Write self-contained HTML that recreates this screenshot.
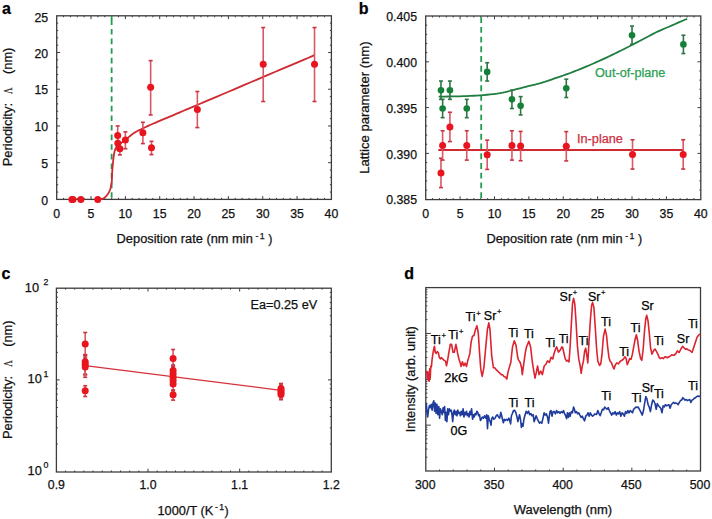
<!DOCTYPE html>
<html><head><meta charset="utf-8"><style>
html,body{margin:0;padding:0;background:#fff;}
body{width:712px;height:519px;overflow:hidden;}
svg{display:block;}

</style></head><body>
<svg width="712" height="519" viewBox="0 0 712 519">
<rect width="712" height="519" fill="#fff"/>
<rect x="56.7" y="15.8" width="274.7" height="183.6" fill="none" stroke="#3c3c3c" stroke-width="1.3"/>
<text x="56.7" y="217.8" font-family="Liberation Sans" font-size="12.3" text-anchor="middle" fill="#111" stroke="#111" stroke-width="0.25" font-weight="normal">0</text>
<line x1="63.57" y1="199.4" x2="63.57" y2="197.9" stroke="#3c3c3c" stroke-width="1"/>
<line x1="63.57" y1="15.8" x2="63.57" y2="17.3" stroke="#3c3c3c" stroke-width="1"/>
<line x1="70.44" y1="199.4" x2="70.44" y2="197.9" stroke="#3c3c3c" stroke-width="1"/>
<line x1="70.44" y1="15.8" x2="70.44" y2="17.3" stroke="#3c3c3c" stroke-width="1"/>
<line x1="77.3" y1="199.4" x2="77.3" y2="197.9" stroke="#3c3c3c" stroke-width="1"/>
<line x1="77.3" y1="15.8" x2="77.3" y2="17.3" stroke="#3c3c3c" stroke-width="1"/>
<line x1="84.17" y1="199.4" x2="84.17" y2="197.9" stroke="#3c3c3c" stroke-width="1"/>
<line x1="84.17" y1="15.8" x2="84.17" y2="17.3" stroke="#3c3c3c" stroke-width="1"/>
<line x1="91.04" y1="199.4" x2="91.04" y2="196.1" stroke="#3c3c3c" stroke-width="1"/>
<line x1="91.04" y1="15.8" x2="91.04" y2="19.1" stroke="#3c3c3c" stroke-width="1"/>
<text x="91.04" y="217.8" font-family="Liberation Sans" font-size="12.3" text-anchor="middle" fill="#111" stroke="#111" stroke-width="0.25" font-weight="normal">5</text>
<line x1="97.91" y1="199.4" x2="97.91" y2="197.9" stroke="#3c3c3c" stroke-width="1"/>
<line x1="97.91" y1="15.8" x2="97.91" y2="17.3" stroke="#3c3c3c" stroke-width="1"/>
<line x1="104.77" y1="199.4" x2="104.77" y2="197.9" stroke="#3c3c3c" stroke-width="1"/>
<line x1="104.77" y1="15.8" x2="104.77" y2="17.3" stroke="#3c3c3c" stroke-width="1"/>
<line x1="111.64" y1="199.4" x2="111.64" y2="197.9" stroke="#3c3c3c" stroke-width="1"/>
<line x1="111.64" y1="15.8" x2="111.64" y2="17.3" stroke="#3c3c3c" stroke-width="1"/>
<line x1="118.51" y1="199.4" x2="118.51" y2="197.9" stroke="#3c3c3c" stroke-width="1"/>
<line x1="118.51" y1="15.8" x2="118.51" y2="17.3" stroke="#3c3c3c" stroke-width="1"/>
<line x1="125.38" y1="199.4" x2="125.38" y2="196.1" stroke="#3c3c3c" stroke-width="1"/>
<line x1="125.38" y1="15.8" x2="125.38" y2="19.1" stroke="#3c3c3c" stroke-width="1"/>
<text x="125.38" y="217.8" font-family="Liberation Sans" font-size="12.3" text-anchor="middle" fill="#111" stroke="#111" stroke-width="0.25" font-weight="normal">10</text>
<line x1="132.24" y1="199.4" x2="132.24" y2="197.9" stroke="#3c3c3c" stroke-width="1"/>
<line x1="132.24" y1="15.8" x2="132.24" y2="17.3" stroke="#3c3c3c" stroke-width="1"/>
<line x1="139.11" y1="199.4" x2="139.11" y2="197.9" stroke="#3c3c3c" stroke-width="1"/>
<line x1="139.11" y1="15.8" x2="139.11" y2="17.3" stroke="#3c3c3c" stroke-width="1"/>
<line x1="145.98" y1="199.4" x2="145.98" y2="197.9" stroke="#3c3c3c" stroke-width="1"/>
<line x1="145.98" y1="15.8" x2="145.98" y2="17.3" stroke="#3c3c3c" stroke-width="1"/>
<line x1="152.84" y1="199.4" x2="152.84" y2="197.9" stroke="#3c3c3c" stroke-width="1"/>
<line x1="152.84" y1="15.8" x2="152.84" y2="17.3" stroke="#3c3c3c" stroke-width="1"/>
<line x1="159.71" y1="199.4" x2="159.71" y2="196.1" stroke="#3c3c3c" stroke-width="1"/>
<line x1="159.71" y1="15.8" x2="159.71" y2="19.1" stroke="#3c3c3c" stroke-width="1"/>
<text x="159.71" y="217.8" font-family="Liberation Sans" font-size="12.3" text-anchor="middle" fill="#111" stroke="#111" stroke-width="0.25" font-weight="normal">15</text>
<line x1="166.58" y1="199.4" x2="166.58" y2="197.9" stroke="#3c3c3c" stroke-width="1"/>
<line x1="166.58" y1="15.8" x2="166.58" y2="17.3" stroke="#3c3c3c" stroke-width="1"/>
<line x1="173.45" y1="199.4" x2="173.45" y2="197.9" stroke="#3c3c3c" stroke-width="1"/>
<line x1="173.45" y1="15.8" x2="173.45" y2="17.3" stroke="#3c3c3c" stroke-width="1"/>
<line x1="180.31" y1="199.4" x2="180.31" y2="197.9" stroke="#3c3c3c" stroke-width="1"/>
<line x1="180.31" y1="15.8" x2="180.31" y2="17.3" stroke="#3c3c3c" stroke-width="1"/>
<line x1="187.18" y1="199.4" x2="187.18" y2="197.9" stroke="#3c3c3c" stroke-width="1"/>
<line x1="187.18" y1="15.8" x2="187.18" y2="17.3" stroke="#3c3c3c" stroke-width="1"/>
<line x1="194.05" y1="199.4" x2="194.05" y2="196.1" stroke="#3c3c3c" stroke-width="1"/>
<line x1="194.05" y1="15.8" x2="194.05" y2="19.1" stroke="#3c3c3c" stroke-width="1"/>
<text x="194.05" y="217.8" font-family="Liberation Sans" font-size="12.3" text-anchor="middle" fill="#111" stroke="#111" stroke-width="0.25" font-weight="normal">20</text>
<line x1="200.92" y1="199.4" x2="200.92" y2="197.9" stroke="#3c3c3c" stroke-width="1"/>
<line x1="200.92" y1="15.8" x2="200.92" y2="17.3" stroke="#3c3c3c" stroke-width="1"/>
<line x1="207.78" y1="199.4" x2="207.78" y2="197.9" stroke="#3c3c3c" stroke-width="1"/>
<line x1="207.78" y1="15.8" x2="207.78" y2="17.3" stroke="#3c3c3c" stroke-width="1"/>
<line x1="214.65" y1="199.4" x2="214.65" y2="197.9" stroke="#3c3c3c" stroke-width="1"/>
<line x1="214.65" y1="15.8" x2="214.65" y2="17.3" stroke="#3c3c3c" stroke-width="1"/>
<line x1="221.52" y1="199.4" x2="221.52" y2="197.9" stroke="#3c3c3c" stroke-width="1"/>
<line x1="221.52" y1="15.8" x2="221.52" y2="17.3" stroke="#3c3c3c" stroke-width="1"/>
<line x1="228.39" y1="199.4" x2="228.39" y2="196.1" stroke="#3c3c3c" stroke-width="1"/>
<line x1="228.39" y1="15.8" x2="228.39" y2="19.1" stroke="#3c3c3c" stroke-width="1"/>
<text x="228.39" y="217.8" font-family="Liberation Sans" font-size="12.3" text-anchor="middle" fill="#111" stroke="#111" stroke-width="0.25" font-weight="normal">25</text>
<line x1="235.25" y1="199.4" x2="235.25" y2="197.9" stroke="#3c3c3c" stroke-width="1"/>
<line x1="235.25" y1="15.8" x2="235.25" y2="17.3" stroke="#3c3c3c" stroke-width="1"/>
<line x1="242.12" y1="199.4" x2="242.12" y2="197.9" stroke="#3c3c3c" stroke-width="1"/>
<line x1="242.12" y1="15.8" x2="242.12" y2="17.3" stroke="#3c3c3c" stroke-width="1"/>
<line x1="248.99" y1="199.4" x2="248.99" y2="197.9" stroke="#3c3c3c" stroke-width="1"/>
<line x1="248.99" y1="15.8" x2="248.99" y2="17.3" stroke="#3c3c3c" stroke-width="1"/>
<line x1="255.86" y1="199.4" x2="255.86" y2="197.9" stroke="#3c3c3c" stroke-width="1"/>
<line x1="255.86" y1="15.8" x2="255.86" y2="17.3" stroke="#3c3c3c" stroke-width="1"/>
<line x1="262.73" y1="199.4" x2="262.73" y2="196.1" stroke="#3c3c3c" stroke-width="1"/>
<line x1="262.73" y1="15.8" x2="262.73" y2="19.1" stroke="#3c3c3c" stroke-width="1"/>
<text x="262.73" y="217.8" font-family="Liberation Sans" font-size="12.3" text-anchor="middle" fill="#111" stroke="#111" stroke-width="0.25" font-weight="normal">30</text>
<line x1="269.59" y1="199.4" x2="269.59" y2="197.9" stroke="#3c3c3c" stroke-width="1"/>
<line x1="269.59" y1="15.8" x2="269.59" y2="17.3" stroke="#3c3c3c" stroke-width="1"/>
<line x1="276.46" y1="199.4" x2="276.46" y2="197.9" stroke="#3c3c3c" stroke-width="1"/>
<line x1="276.46" y1="15.8" x2="276.46" y2="17.3" stroke="#3c3c3c" stroke-width="1"/>
<line x1="283.33" y1="199.4" x2="283.33" y2="197.9" stroke="#3c3c3c" stroke-width="1"/>
<line x1="283.33" y1="15.8" x2="283.33" y2="17.3" stroke="#3c3c3c" stroke-width="1"/>
<line x1="290.19" y1="199.4" x2="290.19" y2="197.9" stroke="#3c3c3c" stroke-width="1"/>
<line x1="290.19" y1="15.8" x2="290.19" y2="17.3" stroke="#3c3c3c" stroke-width="1"/>
<line x1="297.06" y1="199.4" x2="297.06" y2="196.1" stroke="#3c3c3c" stroke-width="1"/>
<line x1="297.06" y1="15.8" x2="297.06" y2="19.1" stroke="#3c3c3c" stroke-width="1"/>
<text x="297.06" y="217.8" font-family="Liberation Sans" font-size="12.3" text-anchor="middle" fill="#111" stroke="#111" stroke-width="0.25" font-weight="normal">35</text>
<line x1="303.93" y1="199.4" x2="303.93" y2="197.9" stroke="#3c3c3c" stroke-width="1"/>
<line x1="303.93" y1="15.8" x2="303.93" y2="17.3" stroke="#3c3c3c" stroke-width="1"/>
<line x1="310.8" y1="199.4" x2="310.8" y2="197.9" stroke="#3c3c3c" stroke-width="1"/>
<line x1="310.8" y1="15.8" x2="310.8" y2="17.3" stroke="#3c3c3c" stroke-width="1"/>
<line x1="317.67" y1="199.4" x2="317.67" y2="197.9" stroke="#3c3c3c" stroke-width="1"/>
<line x1="317.67" y1="15.8" x2="317.67" y2="17.3" stroke="#3c3c3c" stroke-width="1"/>
<line x1="324.53" y1="199.4" x2="324.53" y2="197.9" stroke="#3c3c3c" stroke-width="1"/>
<line x1="324.53" y1="15.8" x2="324.53" y2="17.3" stroke="#3c3c3c" stroke-width="1"/>
<text x="331.4" y="217.8" font-family="Liberation Sans" font-size="12.3" text-anchor="middle" fill="#111" stroke="#111" stroke-width="0.25" font-weight="normal">40</text>
<text x="48.2" y="204.6" font-family="Liberation Sans" font-size="12.3" text-anchor="end" fill="#111" stroke="#111" stroke-width="0.25" font-weight="normal">0</text>
<line x1="56.7" y1="192.06" x2="58.2" y2="192.06" stroke="#3c3c3c" stroke-width="1"/>
<line x1="331.4" y1="192.06" x2="329.9" y2="192.06" stroke="#3c3c3c" stroke-width="1"/>
<line x1="56.7" y1="184.71" x2="58.2" y2="184.71" stroke="#3c3c3c" stroke-width="1"/>
<line x1="331.4" y1="184.71" x2="329.9" y2="184.71" stroke="#3c3c3c" stroke-width="1"/>
<line x1="56.7" y1="177.37" x2="58.2" y2="177.37" stroke="#3c3c3c" stroke-width="1"/>
<line x1="331.4" y1="177.37" x2="329.9" y2="177.37" stroke="#3c3c3c" stroke-width="1"/>
<line x1="56.7" y1="170.02" x2="58.2" y2="170.02" stroke="#3c3c3c" stroke-width="1"/>
<line x1="331.4" y1="170.02" x2="329.9" y2="170.02" stroke="#3c3c3c" stroke-width="1"/>
<line x1="56.7" y1="162.68" x2="60" y2="162.68" stroke="#3c3c3c" stroke-width="1"/>
<line x1="331.4" y1="162.68" x2="328.1" y2="162.68" stroke="#3c3c3c" stroke-width="1"/>
<text x="48.2" y="167.88" font-family="Liberation Sans" font-size="12.3" text-anchor="end" fill="#111" stroke="#111" stroke-width="0.25" font-weight="normal">5</text>
<line x1="56.7" y1="155.34" x2="58.2" y2="155.34" stroke="#3c3c3c" stroke-width="1"/>
<line x1="331.4" y1="155.34" x2="329.9" y2="155.34" stroke="#3c3c3c" stroke-width="1"/>
<line x1="56.7" y1="147.99" x2="58.2" y2="147.99" stroke="#3c3c3c" stroke-width="1"/>
<line x1="331.4" y1="147.99" x2="329.9" y2="147.99" stroke="#3c3c3c" stroke-width="1"/>
<line x1="56.7" y1="140.65" x2="58.2" y2="140.65" stroke="#3c3c3c" stroke-width="1"/>
<line x1="331.4" y1="140.65" x2="329.9" y2="140.65" stroke="#3c3c3c" stroke-width="1"/>
<line x1="56.7" y1="133.3" x2="58.2" y2="133.3" stroke="#3c3c3c" stroke-width="1"/>
<line x1="331.4" y1="133.3" x2="329.9" y2="133.3" stroke="#3c3c3c" stroke-width="1"/>
<line x1="56.7" y1="125.96" x2="60" y2="125.96" stroke="#3c3c3c" stroke-width="1"/>
<line x1="331.4" y1="125.96" x2="328.1" y2="125.96" stroke="#3c3c3c" stroke-width="1"/>
<text x="48.2" y="131.16" font-family="Liberation Sans" font-size="12.3" text-anchor="end" fill="#111" stroke="#111" stroke-width="0.25" font-weight="normal">10</text>
<line x1="56.7" y1="118.62" x2="58.2" y2="118.62" stroke="#3c3c3c" stroke-width="1"/>
<line x1="331.4" y1="118.62" x2="329.9" y2="118.62" stroke="#3c3c3c" stroke-width="1"/>
<line x1="56.7" y1="111.27" x2="58.2" y2="111.27" stroke="#3c3c3c" stroke-width="1"/>
<line x1="331.4" y1="111.27" x2="329.9" y2="111.27" stroke="#3c3c3c" stroke-width="1"/>
<line x1="56.7" y1="103.93" x2="58.2" y2="103.93" stroke="#3c3c3c" stroke-width="1"/>
<line x1="331.4" y1="103.93" x2="329.9" y2="103.93" stroke="#3c3c3c" stroke-width="1"/>
<line x1="56.7" y1="96.58" x2="58.2" y2="96.58" stroke="#3c3c3c" stroke-width="1"/>
<line x1="331.4" y1="96.58" x2="329.9" y2="96.58" stroke="#3c3c3c" stroke-width="1"/>
<line x1="56.7" y1="89.24" x2="60" y2="89.24" stroke="#3c3c3c" stroke-width="1"/>
<line x1="331.4" y1="89.24" x2="328.1" y2="89.24" stroke="#3c3c3c" stroke-width="1"/>
<text x="48.2" y="94.44" font-family="Liberation Sans" font-size="12.3" text-anchor="end" fill="#111" stroke="#111" stroke-width="0.25" font-weight="normal">15</text>
<line x1="56.7" y1="81.9" x2="58.2" y2="81.9" stroke="#3c3c3c" stroke-width="1"/>
<line x1="331.4" y1="81.9" x2="329.9" y2="81.9" stroke="#3c3c3c" stroke-width="1"/>
<line x1="56.7" y1="74.55" x2="58.2" y2="74.55" stroke="#3c3c3c" stroke-width="1"/>
<line x1="331.4" y1="74.55" x2="329.9" y2="74.55" stroke="#3c3c3c" stroke-width="1"/>
<line x1="56.7" y1="67.21" x2="58.2" y2="67.21" stroke="#3c3c3c" stroke-width="1"/>
<line x1="331.4" y1="67.21" x2="329.9" y2="67.21" stroke="#3c3c3c" stroke-width="1"/>
<line x1="56.7" y1="59.86" x2="58.2" y2="59.86" stroke="#3c3c3c" stroke-width="1"/>
<line x1="331.4" y1="59.86" x2="329.9" y2="59.86" stroke="#3c3c3c" stroke-width="1"/>
<line x1="56.7" y1="52.52" x2="60" y2="52.52" stroke="#3c3c3c" stroke-width="1"/>
<line x1="331.4" y1="52.52" x2="328.1" y2="52.52" stroke="#3c3c3c" stroke-width="1"/>
<text x="48.2" y="57.72" font-family="Liberation Sans" font-size="12.3" text-anchor="end" fill="#111" stroke="#111" stroke-width="0.25" font-weight="normal">20</text>
<line x1="56.7" y1="45.18" x2="58.2" y2="45.18" stroke="#3c3c3c" stroke-width="1"/>
<line x1="331.4" y1="45.18" x2="329.9" y2="45.18" stroke="#3c3c3c" stroke-width="1"/>
<line x1="56.7" y1="37.83" x2="58.2" y2="37.83" stroke="#3c3c3c" stroke-width="1"/>
<line x1="331.4" y1="37.83" x2="329.9" y2="37.83" stroke="#3c3c3c" stroke-width="1"/>
<line x1="56.7" y1="30.49" x2="58.2" y2="30.49" stroke="#3c3c3c" stroke-width="1"/>
<line x1="331.4" y1="30.49" x2="329.9" y2="30.49" stroke="#3c3c3c" stroke-width="1"/>
<line x1="56.7" y1="23.14" x2="58.2" y2="23.14" stroke="#3c3c3c" stroke-width="1"/>
<line x1="331.4" y1="23.14" x2="329.9" y2="23.14" stroke="#3c3c3c" stroke-width="1"/>
<text x="48.2" y="21.8" font-family="Liberation Sans" font-size="12.3" text-anchor="end" fill="#111" stroke="#111" stroke-width="0.25" font-weight="normal">25</text>
<path d="M111.64,16.2V25 M111.64,29V34.6 M111.64,38.6V44.2 M111.64,48.2V53.8 M111.64,57.8V63.4 M111.64,67.4V73 M111.64,77V82.6 M111.64,86.6V92.2 M111.64,96.2V101.8 M111.64,105.8V111.4 M111.64,115.4V121 M111.64,125V130.6 M111.64,134.6V140.2 M111.64,144.2V149.8 M111.64,153.8V159.4 M111.64,163.4V169 M111.64,173V178.6 M111.64,182.6V188.2 M111.64,192.2V197.8" stroke="#239c50" stroke-width="1.8" fill="none"/>
<polyline points="97.7,199.4 98.02,199.37 98.47,199.33 99,199.28 99.56,199.23 100.11,199.17 100.6,199.1 101.03,199.04 101.45,198.98 101.85,198.92 102.24,198.84 102.62,198.74 103,198.6 103.36,198.44 103.69,198.27 104.02,198.08 104.35,197.85 104.71,197.56 105.1,197.2 105.55,196.76 106.04,196.24 106.56,195.66 107.07,195.05 107.56,194.42 108,193.8 108.39,193.18 108.76,192.56 109.1,191.92 109.42,191.25 109.72,190.55 110,189.8 110.27,188.98 110.51,188.1 110.74,187.18 110.94,186.26 111.13,185.35 111.3,184.5 111.44,183.75 111.56,183.08 111.66,182.44 111.75,181.75 111.83,180.96 111.9,180 111.96,178.82 112.01,177.47 112.05,176.01 112.09,174.51 112.14,173.05 112.2,171.7 112.28,170.46 112.37,169.27 112.47,168.11 112.58,166.98 112.69,165.85 112.8,164.7 112.91,163.53 113.02,162.34 113.13,161.16 113.25,160 113.37,158.87 113.5,157.8 113.63,156.78 113.77,155.79 113.91,154.83 114.06,153.91 114.22,153.04 114.4,152.2 114.6,151.4 114.8,150.64 115.03,149.92 115.26,149.24 115.52,148.6 115.8,148 116.1,147.46 116.42,146.97 116.76,146.52 117.12,146.1 117.5,145.7 117.9,145.3 118.3,144.93 118.7,144.61 119.13,144.3 119.59,143.98 120.1,143.62 120.7,143.2 121.4,142.7 122.21,142.13 123.07,141.53 123.95,140.91 124.81,140.29 125.6,139.7 126.32,139.13 126.98,138.58 127.62,138.03 128.27,137.47 128.96,136.89 129.7,136.3 130.48,135.68 131.28,135.04 132.11,134.39 132.99,133.73 133.95,133.07 135,132.4 136.16,131.73 137.4,131.06 138.72,130.39 140.1,129.7 141.53,129.01 143,128.3 144.41,127.62 145.75,126.99 147.13,126.34 148.7,125.63 150.56,124.8 152.84,123.8 155.66,122.58 158.92,121.2 162.47,119.69 166.18,118.12 169.89,116.56 173.45,115.05 176.72,113.66 179.81,112.35 182.89,111.04 186.17,109.65 189.82,108.1 194.05,106.3 198.98,104.21 204.48,101.88 210.36,99.38 216.43,96.8 222.51,94.22 228.39,91.73 234.11,89.3 239.83,86.87 245.56,84.44 251.28,82.01 257,79.58 262.73,77.15 268.64,74.63 274.8,72.02 280.95,69.41 286.87,66.9 292.32,64.58 297.06,62.57 301.15,60.83 304.77,59.3 307.93,57.96 310.61,56.82 312.8,55.89 314.51,55.16" fill="none" stroke="#cf2a32" stroke-width="1.8" stroke-linejoin="round"/>
<line x1="117.68" y1="125.96" x2="117.68" y2="145.05" stroke="#da5864" stroke-width="1.6"/>
<line x1="115.68" y1="125.96" x2="119.68" y2="125.96" stroke="#c8343f" stroke-width="1.6"/>
<line x1="115.68" y1="145.05" x2="119.68" y2="145.05" stroke="#c8343f" stroke-width="1.6"/>
<line x1="117.82" y1="136.24" x2="117.82" y2="149.46" stroke="#da5864" stroke-width="1.6"/>
<line x1="115.82" y1="136.24" x2="119.82" y2="136.24" stroke="#c8343f" stroke-width="1.6"/>
<line x1="115.82" y1="149.46" x2="119.82" y2="149.46" stroke="#c8343f" stroke-width="1.6"/>
<line x1="119.88" y1="142.85" x2="119.88" y2="154.9" stroke="#da5864" stroke-width="1.6"/>
<line x1="117.88" y1="142.85" x2="121.88" y2="142.85" stroke="#c8343f" stroke-width="1.6"/>
<line x1="117.88" y1="154.9" x2="121.88" y2="154.9" stroke="#c8343f" stroke-width="1.6"/>
<line x1="125.38" y1="131.84" x2="125.38" y2="148.73" stroke="#da5864" stroke-width="1.6"/>
<line x1="123.38" y1="131.84" x2="127.38" y2="131.84" stroke="#c8343f" stroke-width="1.6"/>
<line x1="123.38" y1="148.73" x2="127.38" y2="148.73" stroke="#c8343f" stroke-width="1.6"/>
<line x1="142.89" y1="122.29" x2="142.89" y2="143.59" stroke="#da5864" stroke-width="1.6"/>
<line x1="140.89" y1="122.29" x2="144.89" y2="122.29" stroke="#c8343f" stroke-width="1.6"/>
<line x1="140.89" y1="143.59" x2="144.89" y2="143.59" stroke="#c8343f" stroke-width="1.6"/>
<line x1="150.65" y1="60.6" x2="150.65" y2="114.94" stroke="#da5864" stroke-width="1.6"/>
<line x1="148.65" y1="60.6" x2="152.65" y2="60.6" stroke="#c8343f" stroke-width="1.6"/>
<line x1="148.65" y1="114.94" x2="152.65" y2="114.94" stroke="#c8343f" stroke-width="1.6"/>
<line x1="151.47" y1="141.38" x2="151.47" y2="154.6" stroke="#da5864" stroke-width="1.6"/>
<line x1="149.47" y1="141.38" x2="153.47" y2="141.38" stroke="#c8343f" stroke-width="1.6"/>
<line x1="149.47" y1="154.6" x2="153.47" y2="154.6" stroke="#c8343f" stroke-width="1.6"/>
<line x1="197.35" y1="91.52" x2="197.35" y2="127.58" stroke="#da5864" stroke-width="1.6"/>
<line x1="195.35" y1="91.52" x2="199.35" y2="91.52" stroke="#c8343f" stroke-width="1.6"/>
<line x1="195.35" y1="127.58" x2="199.35" y2="127.58" stroke="#c8343f" stroke-width="1.6"/>
<line x1="263.21" y1="27.55" x2="263.21" y2="101.5" stroke="#da5864" stroke-width="1.6"/>
<line x1="261.21" y1="27.55" x2="265.21" y2="27.55" stroke="#c8343f" stroke-width="1.6"/>
<line x1="261.21" y1="101.5" x2="265.21" y2="101.5" stroke="#c8343f" stroke-width="1.6"/>
<line x1="314.51" y1="27.55" x2="314.51" y2="101.5" stroke="#da5864" stroke-width="1.6"/>
<line x1="312.51" y1="27.55" x2="316.51" y2="27.55" stroke="#c8343f" stroke-width="1.6"/>
<line x1="312.51" y1="101.5" x2="316.51" y2="101.5" stroke="#c8343f" stroke-width="1.6"/>
<circle cx="117.68" cy="135.51" r="3.5" fill="#e8141e"/>
<circle cx="117.82" cy="143.37" r="3.5" fill="#e8141e"/>
<circle cx="119.88" cy="148.73" r="3.5" fill="#e8141e"/>
<circle cx="125.38" cy="140.06" r="3.5" fill="#e8141e"/>
<circle cx="142.89" cy="132.79" r="3.5" fill="#e8141e"/>
<circle cx="150.65" cy="87.26" r="3.5" fill="#e8141e"/>
<circle cx="151.47" cy="147.7" r="3.5" fill="#e8141e"/>
<circle cx="197.35" cy="109.44" r="3.5" fill="#e8141e"/>
<circle cx="263.21" cy="64.27" r="3.5" fill="#e8141e"/>
<circle cx="314.51" cy="64.27" r="3.5" fill="#e8141e"/>
<circle cx="71.88" cy="199.4" r="3.5" fill="#e8141e"/>
<circle cx="72.98" cy="199.4" r="3.5" fill="#e8141e"/>
<circle cx="80.87" cy="199.4" r="3.5" fill="#e8141e"/>
<circle cx="97.77" cy="199.4" r="3.5" fill="#e8141e"/>
<text x="1.9" y="13.6" font-family="Liberation Sans" font-size="16" text-anchor="start" fill="#000" stroke="#000" stroke-width="0.25" font-weight="bold">a</text>
<g transform="translate(12,166.3) rotate(-90)"><text x="0" y="0" font-family="Liberation Sans" font-size="12.5" fill="#111" stroke="#111" stroke-width="0.25" textLength="63.3" lengthAdjust="spacingAndGlyphs">Periodicity:</text></g>
<g transform="translate(12,93.9) rotate(-90) scale(0.74,1)"><text x="0" y="0" font-family="Liberation Serif" font-size="12" fill="#111" stroke="#111" stroke-width="0.25">&#923;</text></g>
<g transform="translate(12,74) rotate(-90)"><text x="0" y="0" font-family="Liberation Sans" font-size="12.5" fill="#111" stroke="#111" stroke-width="0.25" textLength="26.4" lengthAdjust="spacingAndGlyphs">(nm)</text></g>
<text x="116.6" y="243.3" font-family="Liberation Sans" font-size="12.5" text-anchor="start" fill="#111" stroke="#111" stroke-width="0.25" font-weight="normal" textLength="136.2" lengthAdjust="spacingAndGlyphs">Deposition rate (nm min</text>
<text x="255.5" y="238.6" font-family="Liberation Sans" font-size="8.8" text-anchor="start" fill="#111" stroke="#111" stroke-width="0.25" font-weight="normal">-<tspan dx="1.2">1</tspan></text>
<text x="268.3" y="243.3" font-family="Liberation Sans" font-size="12.5" text-anchor="start" fill="#111" stroke="#111" stroke-width="0.25" font-weight="normal">)</text>
<rect x="425.7" y="16" width="275.1" height="183.6" fill="none" stroke="#3c3c3c" stroke-width="1.3"/>
<text x="425.7" y="217.8" font-family="Liberation Sans" font-size="12.3" text-anchor="middle" fill="#111" stroke="#111" stroke-width="0.25" font-weight="normal">0</text>
<line x1="432.58" y1="199.6" x2="432.58" y2="198.1" stroke="#3c3c3c" stroke-width="1"/>
<line x1="432.58" y1="16" x2="432.58" y2="17.5" stroke="#3c3c3c" stroke-width="1"/>
<line x1="439.45" y1="199.6" x2="439.45" y2="198.1" stroke="#3c3c3c" stroke-width="1"/>
<line x1="439.45" y1="16" x2="439.45" y2="17.5" stroke="#3c3c3c" stroke-width="1"/>
<line x1="446.33" y1="199.6" x2="446.33" y2="198.1" stroke="#3c3c3c" stroke-width="1"/>
<line x1="446.33" y1="16" x2="446.33" y2="17.5" stroke="#3c3c3c" stroke-width="1"/>
<line x1="453.21" y1="199.6" x2="453.21" y2="198.1" stroke="#3c3c3c" stroke-width="1"/>
<line x1="453.21" y1="16" x2="453.21" y2="17.5" stroke="#3c3c3c" stroke-width="1"/>
<line x1="460.09" y1="199.6" x2="460.09" y2="196.3" stroke="#3c3c3c" stroke-width="1"/>
<line x1="460.09" y1="16" x2="460.09" y2="19.3" stroke="#3c3c3c" stroke-width="1"/>
<text x="460.09" y="217.8" font-family="Liberation Sans" font-size="12.3" text-anchor="middle" fill="#111" stroke="#111" stroke-width="0.25" font-weight="normal">5</text>
<line x1="466.96" y1="199.6" x2="466.96" y2="198.1" stroke="#3c3c3c" stroke-width="1"/>
<line x1="466.96" y1="16" x2="466.96" y2="17.5" stroke="#3c3c3c" stroke-width="1"/>
<line x1="473.84" y1="199.6" x2="473.84" y2="198.1" stroke="#3c3c3c" stroke-width="1"/>
<line x1="473.84" y1="16" x2="473.84" y2="17.5" stroke="#3c3c3c" stroke-width="1"/>
<line x1="480.72" y1="199.6" x2="480.72" y2="198.1" stroke="#3c3c3c" stroke-width="1"/>
<line x1="480.72" y1="16" x2="480.72" y2="17.5" stroke="#3c3c3c" stroke-width="1"/>
<line x1="487.6" y1="199.6" x2="487.6" y2="198.1" stroke="#3c3c3c" stroke-width="1"/>
<line x1="487.6" y1="16" x2="487.6" y2="17.5" stroke="#3c3c3c" stroke-width="1"/>
<line x1="494.47" y1="199.6" x2="494.47" y2="196.3" stroke="#3c3c3c" stroke-width="1"/>
<line x1="494.47" y1="16" x2="494.47" y2="19.3" stroke="#3c3c3c" stroke-width="1"/>
<text x="494.47" y="217.8" font-family="Liberation Sans" font-size="12.3" text-anchor="middle" fill="#111" stroke="#111" stroke-width="0.25" font-weight="normal">10</text>
<line x1="501.35" y1="199.6" x2="501.35" y2="198.1" stroke="#3c3c3c" stroke-width="1"/>
<line x1="501.35" y1="16" x2="501.35" y2="17.5" stroke="#3c3c3c" stroke-width="1"/>
<line x1="508.23" y1="199.6" x2="508.23" y2="198.1" stroke="#3c3c3c" stroke-width="1"/>
<line x1="508.23" y1="16" x2="508.23" y2="17.5" stroke="#3c3c3c" stroke-width="1"/>
<line x1="515.11" y1="199.6" x2="515.11" y2="198.1" stroke="#3c3c3c" stroke-width="1"/>
<line x1="515.11" y1="16" x2="515.11" y2="17.5" stroke="#3c3c3c" stroke-width="1"/>
<line x1="521.99" y1="199.6" x2="521.99" y2="198.1" stroke="#3c3c3c" stroke-width="1"/>
<line x1="521.99" y1="16" x2="521.99" y2="17.5" stroke="#3c3c3c" stroke-width="1"/>
<line x1="528.86" y1="199.6" x2="528.86" y2="196.3" stroke="#3c3c3c" stroke-width="1"/>
<line x1="528.86" y1="16" x2="528.86" y2="19.3" stroke="#3c3c3c" stroke-width="1"/>
<text x="528.86" y="217.8" font-family="Liberation Sans" font-size="12.3" text-anchor="middle" fill="#111" stroke="#111" stroke-width="0.25" font-weight="normal">15</text>
<line x1="535.74" y1="199.6" x2="535.74" y2="198.1" stroke="#3c3c3c" stroke-width="1"/>
<line x1="535.74" y1="16" x2="535.74" y2="17.5" stroke="#3c3c3c" stroke-width="1"/>
<line x1="542.62" y1="199.6" x2="542.62" y2="198.1" stroke="#3c3c3c" stroke-width="1"/>
<line x1="542.62" y1="16" x2="542.62" y2="17.5" stroke="#3c3c3c" stroke-width="1"/>
<line x1="549.5" y1="199.6" x2="549.5" y2="198.1" stroke="#3c3c3c" stroke-width="1"/>
<line x1="549.5" y1="16" x2="549.5" y2="17.5" stroke="#3c3c3c" stroke-width="1"/>
<line x1="556.37" y1="199.6" x2="556.37" y2="198.1" stroke="#3c3c3c" stroke-width="1"/>
<line x1="556.37" y1="16" x2="556.37" y2="17.5" stroke="#3c3c3c" stroke-width="1"/>
<line x1="563.25" y1="199.6" x2="563.25" y2="196.3" stroke="#3c3c3c" stroke-width="1"/>
<line x1="563.25" y1="16" x2="563.25" y2="19.3" stroke="#3c3c3c" stroke-width="1"/>
<text x="563.25" y="217.8" font-family="Liberation Sans" font-size="12.3" text-anchor="middle" fill="#111" stroke="#111" stroke-width="0.25" font-weight="normal">20</text>
<line x1="570.13" y1="199.6" x2="570.13" y2="198.1" stroke="#3c3c3c" stroke-width="1"/>
<line x1="570.13" y1="16" x2="570.13" y2="17.5" stroke="#3c3c3c" stroke-width="1"/>
<line x1="577" y1="199.6" x2="577" y2="198.1" stroke="#3c3c3c" stroke-width="1"/>
<line x1="577" y1="16" x2="577" y2="17.5" stroke="#3c3c3c" stroke-width="1"/>
<line x1="583.88" y1="199.6" x2="583.88" y2="198.1" stroke="#3c3c3c" stroke-width="1"/>
<line x1="583.88" y1="16" x2="583.88" y2="17.5" stroke="#3c3c3c" stroke-width="1"/>
<line x1="590.76" y1="199.6" x2="590.76" y2="198.1" stroke="#3c3c3c" stroke-width="1"/>
<line x1="590.76" y1="16" x2="590.76" y2="17.5" stroke="#3c3c3c" stroke-width="1"/>
<line x1="597.64" y1="199.6" x2="597.64" y2="196.3" stroke="#3c3c3c" stroke-width="1"/>
<line x1="597.64" y1="16" x2="597.64" y2="19.3" stroke="#3c3c3c" stroke-width="1"/>
<text x="597.64" y="217.8" font-family="Liberation Sans" font-size="12.3" text-anchor="middle" fill="#111" stroke="#111" stroke-width="0.25" font-weight="normal">25</text>
<line x1="604.51" y1="199.6" x2="604.51" y2="198.1" stroke="#3c3c3c" stroke-width="1"/>
<line x1="604.51" y1="16" x2="604.51" y2="17.5" stroke="#3c3c3c" stroke-width="1"/>
<line x1="611.39" y1="199.6" x2="611.39" y2="198.1" stroke="#3c3c3c" stroke-width="1"/>
<line x1="611.39" y1="16" x2="611.39" y2="17.5" stroke="#3c3c3c" stroke-width="1"/>
<line x1="618.27" y1="199.6" x2="618.27" y2="198.1" stroke="#3c3c3c" stroke-width="1"/>
<line x1="618.27" y1="16" x2="618.27" y2="17.5" stroke="#3c3c3c" stroke-width="1"/>
<line x1="625.15" y1="199.6" x2="625.15" y2="198.1" stroke="#3c3c3c" stroke-width="1"/>
<line x1="625.15" y1="16" x2="625.15" y2="17.5" stroke="#3c3c3c" stroke-width="1"/>
<line x1="632.02" y1="199.6" x2="632.02" y2="196.3" stroke="#3c3c3c" stroke-width="1"/>
<line x1="632.02" y1="16" x2="632.02" y2="19.3" stroke="#3c3c3c" stroke-width="1"/>
<text x="632.02" y="217.8" font-family="Liberation Sans" font-size="12.3" text-anchor="middle" fill="#111" stroke="#111" stroke-width="0.25" font-weight="normal">30</text>
<line x1="638.9" y1="199.6" x2="638.9" y2="198.1" stroke="#3c3c3c" stroke-width="1"/>
<line x1="638.9" y1="16" x2="638.9" y2="17.5" stroke="#3c3c3c" stroke-width="1"/>
<line x1="645.78" y1="199.6" x2="645.78" y2="198.1" stroke="#3c3c3c" stroke-width="1"/>
<line x1="645.78" y1="16" x2="645.78" y2="17.5" stroke="#3c3c3c" stroke-width="1"/>
<line x1="652.66" y1="199.6" x2="652.66" y2="198.1" stroke="#3c3c3c" stroke-width="1"/>
<line x1="652.66" y1="16" x2="652.66" y2="17.5" stroke="#3c3c3c" stroke-width="1"/>
<line x1="659.53" y1="199.6" x2="659.53" y2="198.1" stroke="#3c3c3c" stroke-width="1"/>
<line x1="659.53" y1="16" x2="659.53" y2="17.5" stroke="#3c3c3c" stroke-width="1"/>
<line x1="666.41" y1="199.6" x2="666.41" y2="196.3" stroke="#3c3c3c" stroke-width="1"/>
<line x1="666.41" y1="16" x2="666.41" y2="19.3" stroke="#3c3c3c" stroke-width="1"/>
<text x="666.41" y="217.8" font-family="Liberation Sans" font-size="12.3" text-anchor="middle" fill="#111" stroke="#111" stroke-width="0.25" font-weight="normal">35</text>
<line x1="673.29" y1="199.6" x2="673.29" y2="198.1" stroke="#3c3c3c" stroke-width="1"/>
<line x1="673.29" y1="16" x2="673.29" y2="17.5" stroke="#3c3c3c" stroke-width="1"/>
<line x1="680.17" y1="199.6" x2="680.17" y2="198.1" stroke="#3c3c3c" stroke-width="1"/>
<line x1="680.17" y1="16" x2="680.17" y2="17.5" stroke="#3c3c3c" stroke-width="1"/>
<line x1="687.04" y1="199.6" x2="687.04" y2="198.1" stroke="#3c3c3c" stroke-width="1"/>
<line x1="687.04" y1="16" x2="687.04" y2="17.5" stroke="#3c3c3c" stroke-width="1"/>
<line x1="693.92" y1="199.6" x2="693.92" y2="198.1" stroke="#3c3c3c" stroke-width="1"/>
<line x1="693.92" y1="16" x2="693.92" y2="17.5" stroke="#3c3c3c" stroke-width="1"/>
<text x="700.8" y="217.8" font-family="Liberation Sans" font-size="12.3" text-anchor="middle" fill="#111" stroke="#111" stroke-width="0.25" font-weight="normal">40</text>
<text x="417" y="204.4" font-family="Liberation Sans" font-size="12.3" text-anchor="end" fill="#111" stroke="#111" stroke-width="0.25" font-weight="normal">0.385</text>
<line x1="425.7" y1="190.04" x2="427.2" y2="190.04" stroke="#3c3c3c" stroke-width="1"/>
<line x1="700.8" y1="190.04" x2="699.3" y2="190.04" stroke="#3c3c3c" stroke-width="1"/>
<line x1="425.7" y1="180.88" x2="427.2" y2="180.88" stroke="#3c3c3c" stroke-width="1"/>
<line x1="700.8" y1="180.88" x2="699.3" y2="180.88" stroke="#3c3c3c" stroke-width="1"/>
<line x1="425.7" y1="171.72" x2="427.2" y2="171.72" stroke="#3c3c3c" stroke-width="1"/>
<line x1="700.8" y1="171.72" x2="699.3" y2="171.72" stroke="#3c3c3c" stroke-width="1"/>
<line x1="425.7" y1="162.56" x2="427.2" y2="162.56" stroke="#3c3c3c" stroke-width="1"/>
<line x1="700.8" y1="162.56" x2="699.3" y2="162.56" stroke="#3c3c3c" stroke-width="1"/>
<line x1="425.7" y1="153.4" x2="429" y2="153.4" stroke="#3c3c3c" stroke-width="1"/>
<line x1="700.8" y1="153.4" x2="697.5" y2="153.4" stroke="#3c3c3c" stroke-width="1"/>
<text x="417" y="158.6" font-family="Liberation Sans" font-size="12.3" text-anchor="end" fill="#111" stroke="#111" stroke-width="0.25" font-weight="normal">0.390</text>
<line x1="425.7" y1="144.24" x2="427.2" y2="144.24" stroke="#3c3c3c" stroke-width="1"/>
<line x1="700.8" y1="144.24" x2="699.3" y2="144.24" stroke="#3c3c3c" stroke-width="1"/>
<line x1="425.7" y1="135.08" x2="427.2" y2="135.08" stroke="#3c3c3c" stroke-width="1"/>
<line x1="700.8" y1="135.08" x2="699.3" y2="135.08" stroke="#3c3c3c" stroke-width="1"/>
<line x1="425.7" y1="125.92" x2="427.2" y2="125.92" stroke="#3c3c3c" stroke-width="1"/>
<line x1="700.8" y1="125.92" x2="699.3" y2="125.92" stroke="#3c3c3c" stroke-width="1"/>
<line x1="425.7" y1="116.76" x2="427.2" y2="116.76" stroke="#3c3c3c" stroke-width="1"/>
<line x1="700.8" y1="116.76" x2="699.3" y2="116.76" stroke="#3c3c3c" stroke-width="1"/>
<line x1="425.7" y1="107.6" x2="429" y2="107.6" stroke="#3c3c3c" stroke-width="1"/>
<line x1="700.8" y1="107.6" x2="697.5" y2="107.6" stroke="#3c3c3c" stroke-width="1"/>
<text x="417" y="112.8" font-family="Liberation Sans" font-size="12.3" text-anchor="end" fill="#111" stroke="#111" stroke-width="0.25" font-weight="normal">0.395</text>
<line x1="425.7" y1="98.44" x2="427.2" y2="98.44" stroke="#3c3c3c" stroke-width="1"/>
<line x1="700.8" y1="98.44" x2="699.3" y2="98.44" stroke="#3c3c3c" stroke-width="1"/>
<line x1="425.7" y1="89.28" x2="427.2" y2="89.28" stroke="#3c3c3c" stroke-width="1"/>
<line x1="700.8" y1="89.28" x2="699.3" y2="89.28" stroke="#3c3c3c" stroke-width="1"/>
<line x1="425.7" y1="80.12" x2="427.2" y2="80.12" stroke="#3c3c3c" stroke-width="1"/>
<line x1="700.8" y1="80.12" x2="699.3" y2="80.12" stroke="#3c3c3c" stroke-width="1"/>
<line x1="425.7" y1="70.96" x2="427.2" y2="70.96" stroke="#3c3c3c" stroke-width="1"/>
<line x1="700.8" y1="70.96" x2="699.3" y2="70.96" stroke="#3c3c3c" stroke-width="1"/>
<line x1="425.7" y1="61.8" x2="429" y2="61.8" stroke="#3c3c3c" stroke-width="1"/>
<line x1="700.8" y1="61.8" x2="697.5" y2="61.8" stroke="#3c3c3c" stroke-width="1"/>
<text x="417" y="67" font-family="Liberation Sans" font-size="12.3" text-anchor="end" fill="#111" stroke="#111" stroke-width="0.25" font-weight="normal">0.400</text>
<line x1="425.7" y1="52.64" x2="427.2" y2="52.64" stroke="#3c3c3c" stroke-width="1"/>
<line x1="700.8" y1="52.64" x2="699.3" y2="52.64" stroke="#3c3c3c" stroke-width="1"/>
<line x1="425.7" y1="43.48" x2="427.2" y2="43.48" stroke="#3c3c3c" stroke-width="1"/>
<line x1="700.8" y1="43.48" x2="699.3" y2="43.48" stroke="#3c3c3c" stroke-width="1"/>
<line x1="425.7" y1="34.32" x2="427.2" y2="34.32" stroke="#3c3c3c" stroke-width="1"/>
<line x1="700.8" y1="34.32" x2="699.3" y2="34.32" stroke="#3c3c3c" stroke-width="1"/>
<line x1="425.7" y1="25.16" x2="427.2" y2="25.16" stroke="#3c3c3c" stroke-width="1"/>
<line x1="700.8" y1="25.16" x2="699.3" y2="25.16" stroke="#3c3c3c" stroke-width="1"/>
<text x="417" y="21.2" font-family="Liberation Sans" font-size="12.3" text-anchor="end" fill="#111" stroke="#111" stroke-width="0.25" font-weight="normal">0.405</text>
<path d="M481.2,17.2V23.1 M481.2,26.92V32.82 M481.2,36.64V42.54 M481.2,46.36V52.26 M481.2,56.08V61.98 M481.2,65.8V71.7 M481.2,75.52V81.42 M481.2,85.24V91.14 M481.2,94.96V100.86 M481.2,104.68V110.58 M481.2,114.4V120.3 M481.2,124.12V130.02 M481.2,133.84V139.74 M481.2,143.56V149.46 M481.2,153.28V159.18 M481.2,163V168.9 M481.2,172.72V178.62 M481.2,182.44V188.34 M481.2,192.16V198.06" stroke="#239c50" stroke-width="1.8" fill="none"/>
<polyline points="438.7,96.6 441.03,96.58 444.27,96.55 448.1,96.51 452.21,96.46 456.28,96.39 460,96.3 463.41,96.19 466.76,96.06 470.08,95.91 473.38,95.74 476.68,95.54 480,95.3 483.4,95.03 486.89,94.73 490.38,94.4 493.78,94.04 497.01,93.64 500,93.2 502.68,92.71 505.11,92.17 507.37,91.59 509.55,91 511.73,90.39 514,89.8 516.35,89.21 518.7,88.61 521.05,88.01 523.4,87.4 525.75,86.8 528.1,86.2 530.44,85.63 532.77,85.07 535.1,84.53 537.43,83.96 539.76,83.36 542.1,82.7 544.45,81.98 546.8,81.2 549.15,80.39 551.5,79.56 553.85,78.72 556.2,77.9 558.54,77.1 560.87,76.3 563.2,75.5 565.53,74.69 567.86,73.86 570.2,73 572.55,72.11 574.9,71.2 577.25,70.28 579.6,69.33 581.95,68.37 584.3,67.4 586.61,66.43 588.87,65.47 591.14,64.49 593.44,63.48 595.81,62.42 598.3,61.3 600.92,60.11 603.64,58.86 606.44,57.56 609.29,56.23 612.15,54.87 615,53.5 617.77,52.15 620.48,50.81 623.2,49.44 626.02,48.01 629.03,46.48 632.3,44.8 636,42.87 640.08,40.71 644.34,38.44 648.59,36.19 652.61,34.1 656.2,32.3 659.31,30.82 662.09,29.57 664.65,28.48 667.09,27.47 669.5,26.47 672,25.4 674.73,24.21 677.64,22.93 680.54,21.67 683.21,20.5 685.47,19.51 687.1,18.8" fill="none" stroke="#1f7d3f" stroke-width="1.8" stroke-linejoin="round"/>
<line x1="438.29" y1="150" x2="683.61" y2="150" stroke="#cf2a32" stroke-width="1.8"/>
<line x1="440.97" y1="81.04" x2="440.97" y2="99.36" stroke="#2f7445" stroke-width="1.6"/>
<line x1="438.97" y1="81.04" x2="442.97" y2="81.04" stroke="#2f7445" stroke-width="1.6"/>
<line x1="438.97" y1="99.36" x2="442.97" y2="99.36" stroke="#2f7445" stroke-width="1.6"/>
<line x1="449.91" y1="81.04" x2="449.91" y2="99.36" stroke="#2f7445" stroke-width="1.6"/>
<line x1="447.91" y1="81.04" x2="451.91" y2="81.04" stroke="#2f7445" stroke-width="1.6"/>
<line x1="447.91" y1="99.36" x2="451.91" y2="99.36" stroke="#2f7445" stroke-width="1.6"/>
<line x1="442.62" y1="99.36" x2="442.62" y2="117.68" stroke="#2f7445" stroke-width="1.6"/>
<line x1="440.62" y1="99.36" x2="444.62" y2="99.36" stroke="#2f7445" stroke-width="1.6"/>
<line x1="440.62" y1="117.68" x2="444.62" y2="117.68" stroke="#2f7445" stroke-width="1.6"/>
<line x1="466.76" y1="99.36" x2="466.76" y2="117.68" stroke="#2f7445" stroke-width="1.6"/>
<line x1="464.76" y1="99.36" x2="468.76" y2="99.36" stroke="#2f7445" stroke-width="1.6"/>
<line x1="464.76" y1="117.68" x2="468.76" y2="117.68" stroke="#2f7445" stroke-width="1.6"/>
<line x1="487.18" y1="62.72" x2="487.18" y2="81.04" stroke="#2f7445" stroke-width="1.6"/>
<line x1="485.18" y1="62.72" x2="489.18" y2="62.72" stroke="#2f7445" stroke-width="1.6"/>
<line x1="485.18" y1="81.04" x2="489.18" y2="81.04" stroke="#2f7445" stroke-width="1.6"/>
<line x1="511.94" y1="90.2" x2="511.94" y2="108.52" stroke="#2f7445" stroke-width="1.6"/>
<line x1="509.94" y1="90.2" x2="513.94" y2="90.2" stroke="#2f7445" stroke-width="1.6"/>
<line x1="509.94" y1="108.52" x2="513.94" y2="108.52" stroke="#2f7445" stroke-width="1.6"/>
<line x1="520.61" y1="96.61" x2="520.61" y2="114.93" stroke="#2f7445" stroke-width="1.6"/>
<line x1="518.61" y1="96.61" x2="522.61" y2="96.61" stroke="#2f7445" stroke-width="1.6"/>
<line x1="518.61" y1="114.93" x2="522.61" y2="114.93" stroke="#2f7445" stroke-width="1.6"/>
<line x1="566.28" y1="79.2" x2="566.28" y2="97.52" stroke="#2f7445" stroke-width="1.6"/>
<line x1="564.28" y1="79.2" x2="568.28" y2="79.2" stroke="#2f7445" stroke-width="1.6"/>
<line x1="564.28" y1="97.52" x2="568.28" y2="97.52" stroke="#2f7445" stroke-width="1.6"/>
<line x1="632.02" y1="26.08" x2="632.02" y2="44.4" stroke="#2f7445" stroke-width="1.6"/>
<line x1="630.02" y1="26.08" x2="634.02" y2="26.08" stroke="#2f7445" stroke-width="1.6"/>
<line x1="630.02" y1="44.4" x2="634.02" y2="44.4" stroke="#2f7445" stroke-width="1.6"/>
<line x1="683.4" y1="35.24" x2="683.4" y2="53.56" stroke="#2f7445" stroke-width="1.6"/>
<line x1="681.4" y1="35.24" x2="685.4" y2="35.24" stroke="#2f7445" stroke-width="1.6"/>
<line x1="681.4" y1="53.56" x2="685.4" y2="53.56" stroke="#2f7445" stroke-width="1.6"/>
<circle cx="440.97" cy="90.2" r="3.3" fill="#15803a"/>
<circle cx="449.91" cy="90.2" r="3.3" fill="#15803a"/>
<circle cx="442.62" cy="108.52" r="3.3" fill="#15803a"/>
<circle cx="466.76" cy="108.52" r="3.3" fill="#15803a"/>
<circle cx="487.18" cy="71.88" r="3.3" fill="#15803a"/>
<circle cx="511.94" cy="99.36" r="3.3" fill="#15803a"/>
<circle cx="520.61" cy="105.77" r="3.3" fill="#15803a"/>
<circle cx="566.28" cy="88.36" r="3.3" fill="#15803a"/>
<circle cx="632.02" cy="35.24" r="3.3" fill="#15803a"/>
<circle cx="683.4" cy="44.4" r="3.3" fill="#15803a"/>
<line x1="440.97" y1="158.25" x2="440.97" y2="187.57" stroke="#da5864" stroke-width="1.6"/>
<line x1="438.97" y1="158.25" x2="442.97" y2="158.25" stroke="#c8343f" stroke-width="1.6"/>
<line x1="438.97" y1="187.57" x2="442.97" y2="187.57" stroke="#c8343f" stroke-width="1.6"/>
<line x1="442.62" y1="130.77" x2="442.62" y2="160.09" stroke="#da5864" stroke-width="1.6"/>
<line x1="440.62" y1="130.77" x2="444.62" y2="130.77" stroke="#c8343f" stroke-width="1.6"/>
<line x1="440.62" y1="160.09" x2="444.62" y2="160.09" stroke="#c8343f" stroke-width="1.6"/>
<line x1="449.91" y1="112.27" x2="449.91" y2="141.58" stroke="#da5864" stroke-width="1.6"/>
<line x1="447.91" y1="112.27" x2="451.91" y2="112.27" stroke="#c8343f" stroke-width="1.6"/>
<line x1="447.91" y1="141.58" x2="451.91" y2="141.58" stroke="#c8343f" stroke-width="1.6"/>
<line x1="466.76" y1="130.77" x2="466.76" y2="160.09" stroke="#da5864" stroke-width="1.6"/>
<line x1="464.76" y1="130.77" x2="468.76" y2="130.77" stroke="#c8343f" stroke-width="1.6"/>
<line x1="464.76" y1="160.09" x2="468.76" y2="160.09" stroke="#c8343f" stroke-width="1.6"/>
<line x1="487.18" y1="140.12" x2="487.18" y2="169.43" stroke="#da5864" stroke-width="1.6"/>
<line x1="485.18" y1="140.12" x2="489.18" y2="140.12" stroke="#c8343f" stroke-width="1.6"/>
<line x1="485.18" y1="169.43" x2="489.18" y2="169.43" stroke="#c8343f" stroke-width="1.6"/>
<line x1="511.94" y1="130.77" x2="511.94" y2="160.09" stroke="#da5864" stroke-width="1.6"/>
<line x1="509.94" y1="130.77" x2="513.94" y2="130.77" stroke="#c8343f" stroke-width="1.6"/>
<line x1="509.94" y1="160.09" x2="513.94" y2="160.09" stroke="#c8343f" stroke-width="1.6"/>
<line x1="520.61" y1="131.42" x2="520.61" y2="160.73" stroke="#da5864" stroke-width="1.6"/>
<line x1="518.61" y1="131.42" x2="522.61" y2="131.42" stroke="#c8343f" stroke-width="1.6"/>
<line x1="518.61" y1="160.73" x2="522.61" y2="160.73" stroke="#c8343f" stroke-width="1.6"/>
<line x1="566.28" y1="131.6" x2="566.28" y2="160.91" stroke="#da5864" stroke-width="1.6"/>
<line x1="564.28" y1="131.6" x2="568.28" y2="131.6" stroke="#c8343f" stroke-width="1.6"/>
<line x1="564.28" y1="160.91" x2="568.28" y2="160.91" stroke="#c8343f" stroke-width="1.6"/>
<line x1="632.51" y1="139.75" x2="632.51" y2="169.06" stroke="#da5864" stroke-width="1.6"/>
<line x1="630.51" y1="139.75" x2="634.51" y2="139.75" stroke="#c8343f" stroke-width="1.6"/>
<line x1="630.51" y1="169.06" x2="634.51" y2="169.06" stroke="#c8343f" stroke-width="1.6"/>
<line x1="683.19" y1="139.75" x2="683.19" y2="169.06" stroke="#da5864" stroke-width="1.6"/>
<line x1="681.19" y1="139.75" x2="685.19" y2="139.75" stroke="#c8343f" stroke-width="1.6"/>
<line x1="681.19" y1="169.06" x2="685.19" y2="169.06" stroke="#c8343f" stroke-width="1.6"/>
<circle cx="440.97" cy="172.91" r="3.5" fill="#e8141e"/>
<circle cx="442.62" cy="145.43" r="3.5" fill="#e8141e"/>
<circle cx="449.91" cy="126.93" r="3.5" fill="#e8141e"/>
<circle cx="466.76" cy="145.43" r="3.5" fill="#e8141e"/>
<circle cx="487.18" cy="154.77" r="3.5" fill="#e8141e"/>
<circle cx="511.94" cy="145.43" r="3.5" fill="#e8141e"/>
<circle cx="520.61" cy="146.07" r="3.5" fill="#e8141e"/>
<circle cx="566.28" cy="146.26" r="3.5" fill="#e8141e"/>
<circle cx="632.51" cy="154.41" r="3.5" fill="#e8141e"/>
<circle cx="683.19" cy="154.41" r="3.5" fill="#e8141e"/>
<text x="595" y="76.6" font-family="Liberation Sans" font-size="12" text-anchor="start" fill="#2aa055" stroke="#2aa055" stroke-width="0.25" font-weight="normal" textLength="70.4" lengthAdjust="spacingAndGlyphs">Out-of-plane</text>
<text x="577" y="143" font-family="Liberation Sans" font-size="12" text-anchor="start" fill="#cc3040" stroke="#cc3040" stroke-width="0.25" font-weight="normal" textLength="45.9" lengthAdjust="spacingAndGlyphs">In-plane</text>
<text x="358.8" y="13.9" font-family="Liberation Sans" font-size="16" text-anchor="start" fill="#000" stroke="#000" stroke-width="0.25" font-weight="bold">b</text>
<g transform="translate(369,107.6) rotate(-90)"><text x="0" y="0" font-family="Liberation Sans" font-size="12.5" text-anchor="middle" fill="#111" stroke="#111" stroke-width="0.25" textLength="132.5" lengthAdjust="spacingAndGlyphs">Lattice parameter (nm)</text></g>
<text x="486.4" y="243.3" font-family="Liberation Sans" font-size="12.5" text-anchor="start" fill="#111" stroke="#111" stroke-width="0.25" font-weight="normal" textLength="136.2" lengthAdjust="spacingAndGlyphs">Deposition rate (nm min</text>
<text x="625.3" y="238.6" font-family="Liberation Sans" font-size="8.8" text-anchor="start" fill="#111" stroke="#111" stroke-width="0.25" font-weight="normal">-<tspan dx="1.2">1</tspan></text>
<text x="638.1" y="243.3" font-family="Liberation Sans" font-size="12.5" text-anchor="start" fill="#111" stroke="#111" stroke-width="0.25" font-weight="normal">)</text>
<rect x="56.4" y="288.2" width="274.9" height="183.8" fill="none" stroke="#3c3c3c" stroke-width="1.3"/>
<text x="56.4" y="489.4" font-family="Liberation Sans" font-size="12.3" text-anchor="middle" fill="#111" stroke="#111" stroke-width="0.25" font-weight="normal">0.9</text>
<line x1="65.56" y1="472" x2="65.56" y2="470.5" stroke="#3c3c3c" stroke-width="1"/>
<line x1="65.56" y1="288.2" x2="65.56" y2="289.7" stroke="#3c3c3c" stroke-width="1"/>
<line x1="74.73" y1="472" x2="74.73" y2="470.5" stroke="#3c3c3c" stroke-width="1"/>
<line x1="74.73" y1="288.2" x2="74.73" y2="289.7" stroke="#3c3c3c" stroke-width="1"/>
<line x1="83.89" y1="472" x2="83.89" y2="470.5" stroke="#3c3c3c" stroke-width="1"/>
<line x1="83.89" y1="288.2" x2="83.89" y2="289.7" stroke="#3c3c3c" stroke-width="1"/>
<line x1="93.05" y1="472" x2="93.05" y2="470.5" stroke="#3c3c3c" stroke-width="1"/>
<line x1="93.05" y1="288.2" x2="93.05" y2="289.7" stroke="#3c3c3c" stroke-width="1"/>
<line x1="102.22" y1="472" x2="102.22" y2="470.5" stroke="#3c3c3c" stroke-width="1"/>
<line x1="102.22" y1="288.2" x2="102.22" y2="289.7" stroke="#3c3c3c" stroke-width="1"/>
<line x1="111.38" y1="472" x2="111.38" y2="470.5" stroke="#3c3c3c" stroke-width="1"/>
<line x1="111.38" y1="288.2" x2="111.38" y2="289.7" stroke="#3c3c3c" stroke-width="1"/>
<line x1="120.54" y1="472" x2="120.54" y2="470.5" stroke="#3c3c3c" stroke-width="1"/>
<line x1="120.54" y1="288.2" x2="120.54" y2="289.7" stroke="#3c3c3c" stroke-width="1"/>
<line x1="129.71" y1="472" x2="129.71" y2="470.5" stroke="#3c3c3c" stroke-width="1"/>
<line x1="129.71" y1="288.2" x2="129.71" y2="289.7" stroke="#3c3c3c" stroke-width="1"/>
<line x1="138.87" y1="472" x2="138.87" y2="470.5" stroke="#3c3c3c" stroke-width="1"/>
<line x1="138.87" y1="288.2" x2="138.87" y2="289.7" stroke="#3c3c3c" stroke-width="1"/>
<line x1="148.03" y1="472" x2="148.03" y2="468.7" stroke="#3c3c3c" stroke-width="1"/>
<line x1="148.03" y1="288.2" x2="148.03" y2="291.5" stroke="#3c3c3c" stroke-width="1"/>
<text x="148.03" y="489.4" font-family="Liberation Sans" font-size="12.3" text-anchor="middle" fill="#111" stroke="#111" stroke-width="0.25" font-weight="normal">1.0</text>
<line x1="157.2" y1="472" x2="157.2" y2="470.5" stroke="#3c3c3c" stroke-width="1"/>
<line x1="157.2" y1="288.2" x2="157.2" y2="289.7" stroke="#3c3c3c" stroke-width="1"/>
<line x1="166.36" y1="472" x2="166.36" y2="470.5" stroke="#3c3c3c" stroke-width="1"/>
<line x1="166.36" y1="288.2" x2="166.36" y2="289.7" stroke="#3c3c3c" stroke-width="1"/>
<line x1="175.52" y1="472" x2="175.52" y2="470.5" stroke="#3c3c3c" stroke-width="1"/>
<line x1="175.52" y1="288.2" x2="175.52" y2="289.7" stroke="#3c3c3c" stroke-width="1"/>
<line x1="184.69" y1="472" x2="184.69" y2="470.5" stroke="#3c3c3c" stroke-width="1"/>
<line x1="184.69" y1="288.2" x2="184.69" y2="289.7" stroke="#3c3c3c" stroke-width="1"/>
<line x1="193.85" y1="472" x2="193.85" y2="470.5" stroke="#3c3c3c" stroke-width="1"/>
<line x1="193.85" y1="288.2" x2="193.85" y2="289.7" stroke="#3c3c3c" stroke-width="1"/>
<line x1="203.01" y1="472" x2="203.01" y2="470.5" stroke="#3c3c3c" stroke-width="1"/>
<line x1="203.01" y1="288.2" x2="203.01" y2="289.7" stroke="#3c3c3c" stroke-width="1"/>
<line x1="212.18" y1="472" x2="212.18" y2="470.5" stroke="#3c3c3c" stroke-width="1"/>
<line x1="212.18" y1="288.2" x2="212.18" y2="289.7" stroke="#3c3c3c" stroke-width="1"/>
<line x1="221.34" y1="472" x2="221.34" y2="470.5" stroke="#3c3c3c" stroke-width="1"/>
<line x1="221.34" y1="288.2" x2="221.34" y2="289.7" stroke="#3c3c3c" stroke-width="1"/>
<line x1="230.5" y1="472" x2="230.5" y2="470.5" stroke="#3c3c3c" stroke-width="1"/>
<line x1="230.5" y1="288.2" x2="230.5" y2="289.7" stroke="#3c3c3c" stroke-width="1"/>
<line x1="239.67" y1="472" x2="239.67" y2="468.7" stroke="#3c3c3c" stroke-width="1"/>
<line x1="239.67" y1="288.2" x2="239.67" y2="291.5" stroke="#3c3c3c" stroke-width="1"/>
<text x="239.67" y="489.4" font-family="Liberation Sans" font-size="12.3" text-anchor="middle" fill="#111" stroke="#111" stroke-width="0.25" font-weight="normal">1.1</text>
<line x1="248.83" y1="472" x2="248.83" y2="470.5" stroke="#3c3c3c" stroke-width="1"/>
<line x1="248.83" y1="288.2" x2="248.83" y2="289.7" stroke="#3c3c3c" stroke-width="1"/>
<line x1="257.99" y1="472" x2="257.99" y2="470.5" stroke="#3c3c3c" stroke-width="1"/>
<line x1="257.99" y1="288.2" x2="257.99" y2="289.7" stroke="#3c3c3c" stroke-width="1"/>
<line x1="267.16" y1="472" x2="267.16" y2="470.5" stroke="#3c3c3c" stroke-width="1"/>
<line x1="267.16" y1="288.2" x2="267.16" y2="289.7" stroke="#3c3c3c" stroke-width="1"/>
<line x1="276.32" y1="472" x2="276.32" y2="470.5" stroke="#3c3c3c" stroke-width="1"/>
<line x1="276.32" y1="288.2" x2="276.32" y2="289.7" stroke="#3c3c3c" stroke-width="1"/>
<line x1="285.48" y1="472" x2="285.48" y2="470.5" stroke="#3c3c3c" stroke-width="1"/>
<line x1="285.48" y1="288.2" x2="285.48" y2="289.7" stroke="#3c3c3c" stroke-width="1"/>
<line x1="294.65" y1="472" x2="294.65" y2="470.5" stroke="#3c3c3c" stroke-width="1"/>
<line x1="294.65" y1="288.2" x2="294.65" y2="289.7" stroke="#3c3c3c" stroke-width="1"/>
<line x1="303.81" y1="472" x2="303.81" y2="470.5" stroke="#3c3c3c" stroke-width="1"/>
<line x1="303.81" y1="288.2" x2="303.81" y2="289.7" stroke="#3c3c3c" stroke-width="1"/>
<line x1="312.97" y1="472" x2="312.97" y2="470.5" stroke="#3c3c3c" stroke-width="1"/>
<line x1="312.97" y1="288.2" x2="312.97" y2="289.7" stroke="#3c3c3c" stroke-width="1"/>
<line x1="322.14" y1="472" x2="322.14" y2="470.5" stroke="#3c3c3c" stroke-width="1"/>
<line x1="322.14" y1="288.2" x2="322.14" y2="289.7" stroke="#3c3c3c" stroke-width="1"/>
<text x="331.3" y="489.4" font-family="Liberation Sans" font-size="12.3" text-anchor="middle" fill="#111" stroke="#111" stroke-width="0.25" font-weight="normal">1.2</text>
<line x1="56.4" y1="444" x2="57.9" y2="444" stroke="#3c3c3c" stroke-width="1"/>
<line x1="331.3" y1="444" x2="329.8" y2="444" stroke="#3c3c3c" stroke-width="1"/>
<line x1="56.4" y1="427.85" x2="57.9" y2="427.85" stroke="#3c3c3c" stroke-width="1"/>
<line x1="331.3" y1="427.85" x2="329.8" y2="427.85" stroke="#3c3c3c" stroke-width="1"/>
<line x1="56.4" y1="416.39" x2="57.9" y2="416.39" stroke="#3c3c3c" stroke-width="1"/>
<line x1="331.3" y1="416.39" x2="329.8" y2="416.39" stroke="#3c3c3c" stroke-width="1"/>
<line x1="56.4" y1="407.5" x2="57.9" y2="407.5" stroke="#3c3c3c" stroke-width="1"/>
<line x1="331.3" y1="407.5" x2="329.8" y2="407.5" stroke="#3c3c3c" stroke-width="1"/>
<line x1="56.4" y1="400.24" x2="57.9" y2="400.24" stroke="#3c3c3c" stroke-width="1"/>
<line x1="331.3" y1="400.24" x2="329.8" y2="400.24" stroke="#3c3c3c" stroke-width="1"/>
<line x1="56.4" y1="394.1" x2="57.9" y2="394.1" stroke="#3c3c3c" stroke-width="1"/>
<line x1="331.3" y1="394.1" x2="329.8" y2="394.1" stroke="#3c3c3c" stroke-width="1"/>
<line x1="56.4" y1="388.79" x2="57.9" y2="388.79" stroke="#3c3c3c" stroke-width="1"/>
<line x1="331.3" y1="388.79" x2="329.8" y2="388.79" stroke="#3c3c3c" stroke-width="1"/>
<line x1="56.4" y1="384.1" x2="57.9" y2="384.1" stroke="#3c3c3c" stroke-width="1"/>
<line x1="331.3" y1="384.1" x2="329.8" y2="384.1" stroke="#3c3c3c" stroke-width="1"/>
<line x1="56.4" y1="379.9" x2="59.7" y2="379.9" stroke="#3c3c3c" stroke-width="1"/>
<line x1="331.3" y1="379.9" x2="328" y2="379.9" stroke="#3c3c3c" stroke-width="1"/>
<line x1="56.4" y1="352.3" x2="57.9" y2="352.3" stroke="#3c3c3c" stroke-width="1"/>
<line x1="331.3" y1="352.3" x2="329.8" y2="352.3" stroke="#3c3c3c" stroke-width="1"/>
<line x1="56.4" y1="336.15" x2="57.9" y2="336.15" stroke="#3c3c3c" stroke-width="1"/>
<line x1="331.3" y1="336.15" x2="329.8" y2="336.15" stroke="#3c3c3c" stroke-width="1"/>
<line x1="56.4" y1="324.69" x2="57.9" y2="324.69" stroke="#3c3c3c" stroke-width="1"/>
<line x1="331.3" y1="324.69" x2="329.8" y2="324.69" stroke="#3c3c3c" stroke-width="1"/>
<line x1="56.4" y1="315.8" x2="57.9" y2="315.8" stroke="#3c3c3c" stroke-width="1"/>
<line x1="331.3" y1="315.8" x2="329.8" y2="315.8" stroke="#3c3c3c" stroke-width="1"/>
<line x1="56.4" y1="308.54" x2="57.9" y2="308.54" stroke="#3c3c3c" stroke-width="1"/>
<line x1="331.3" y1="308.54" x2="329.8" y2="308.54" stroke="#3c3c3c" stroke-width="1"/>
<line x1="56.4" y1="302.4" x2="57.9" y2="302.4" stroke="#3c3c3c" stroke-width="1"/>
<line x1="331.3" y1="302.4" x2="329.8" y2="302.4" stroke="#3c3c3c" stroke-width="1"/>
<line x1="56.4" y1="297.09" x2="57.9" y2="297.09" stroke="#3c3c3c" stroke-width="1"/>
<line x1="331.3" y1="297.09" x2="329.8" y2="297.09" stroke="#3c3c3c" stroke-width="1"/>
<line x1="56.4" y1="292.4" x2="57.9" y2="292.4" stroke="#3c3c3c" stroke-width="1"/>
<line x1="331.3" y1="292.4" x2="329.8" y2="292.4" stroke="#3c3c3c" stroke-width="1"/>
<text x="41.8" y="474.9" font-family="Liberation Sans" font-size="12.8" text-anchor="end" fill="#111" stroke="#111" stroke-width="0.25" font-weight="normal">10</text>
<text x="43.6" y="468.2" font-family="Liberation Sans" font-size="8.8" text-anchor="start" fill="#111" stroke="#111" stroke-width="0.25" font-weight="normal">0</text>
<text x="41.8" y="383.2" font-family="Liberation Sans" font-size="12.8" text-anchor="end" fill="#111" stroke="#111" stroke-width="0.25" font-weight="normal">10</text>
<text x="43.6" y="376.5" font-family="Liberation Sans" font-size="8.8" text-anchor="start" fill="#111" stroke="#111" stroke-width="0.25" font-weight="normal">1</text>
<text x="39.1" y="291.5" font-family="Liberation Sans" font-size="12.8" text-anchor="end" fill="#111" stroke="#111" stroke-width="0.25" font-weight="normal">10</text>
<text x="43.6" y="284.8" font-family="Liberation Sans" font-size="8.8" text-anchor="start" fill="#111" stroke="#111" stroke-width="0.25" font-weight="normal">2</text>
<line x1="85.2" y1="365.6" x2="280.6" y2="390.3" stroke="#d8303a" stroke-width="1.35"/>
<line x1="85.2" y1="332.5" x2="85.2" y2="354.6" stroke="#da5864" stroke-width="1.6"/>
<line x1="83.2" y1="332.5" x2="87.2" y2="332.5" stroke="#c8343f" stroke-width="1.6"/>
<line x1="83.2" y1="354.6" x2="87.2" y2="354.6" stroke="#c8343f" stroke-width="1.6"/>
<line x1="85.2" y1="355" x2="85.2" y2="374.1" stroke="#da5864" stroke-width="1.6"/>
<line x1="83.2" y1="355" x2="87.2" y2="355" stroke="#c8343f" stroke-width="1.6"/>
<line x1="83.2" y1="374.1" x2="87.2" y2="374.1" stroke="#c8343f" stroke-width="1.6"/>
<line x1="85.2" y1="356" x2="85.2" y2="375" stroke="#da5864" stroke-width="1.6"/>
<line x1="83.2" y1="356" x2="87.2" y2="356" stroke="#c8343f" stroke-width="1.6"/>
<line x1="83.2" y1="375" x2="87.2" y2="375" stroke="#c8343f" stroke-width="1.6"/>
<line x1="85.2" y1="358" x2="85.2" y2="377.3" stroke="#da5864" stroke-width="1.6"/>
<line x1="83.2" y1="358" x2="87.2" y2="358" stroke="#c8343f" stroke-width="1.6"/>
<line x1="83.2" y1="377.3" x2="87.2" y2="377.3" stroke="#c8343f" stroke-width="1.6"/>
<line x1="85.2" y1="385.7" x2="85.2" y2="396.5" stroke="#da5864" stroke-width="1.6"/>
<line x1="83.2" y1="385.7" x2="87.2" y2="385.7" stroke="#c8343f" stroke-width="1.6"/>
<line x1="83.2" y1="396.5" x2="87.2" y2="396.5" stroke="#c8343f" stroke-width="1.6"/>
<line x1="173.1" y1="349.5" x2="173.1" y2="365" stroke="#da5864" stroke-width="1.6"/>
<line x1="171.1" y1="349.5" x2="175.1" y2="349.5" stroke="#c8343f" stroke-width="1.6"/>
<line x1="171.1" y1="365" x2="175.1" y2="365" stroke="#c8343f" stroke-width="1.6"/>
<line x1="173.1" y1="366" x2="173.1" y2="378" stroke="#da5864" stroke-width="1.6"/>
<line x1="171.1" y1="366" x2="175.1" y2="366" stroke="#c8343f" stroke-width="1.6"/>
<line x1="171.1" y1="378" x2="175.1" y2="378" stroke="#c8343f" stroke-width="1.6"/>
<line x1="173.1" y1="367" x2="173.1" y2="380" stroke="#da5864" stroke-width="1.6"/>
<line x1="171.1" y1="367" x2="175.1" y2="367" stroke="#c8343f" stroke-width="1.6"/>
<line x1="171.1" y1="380" x2="175.1" y2="380" stroke="#c8343f" stroke-width="1.6"/>
<line x1="173.1" y1="370" x2="173.1" y2="383" stroke="#da5864" stroke-width="1.6"/>
<line x1="171.1" y1="370" x2="175.1" y2="370" stroke="#c8343f" stroke-width="1.6"/>
<line x1="171.1" y1="383" x2="175.1" y2="383" stroke="#c8343f" stroke-width="1.6"/>
<line x1="173.1" y1="373" x2="173.1" y2="386" stroke="#da5864" stroke-width="1.6"/>
<line x1="171.1" y1="373" x2="175.1" y2="373" stroke="#c8343f" stroke-width="1.6"/>
<line x1="171.1" y1="386" x2="175.1" y2="386" stroke="#c8343f" stroke-width="1.6"/>
<line x1="173.1" y1="378" x2="173.1" y2="390" stroke="#da5864" stroke-width="1.6"/>
<line x1="171.1" y1="378" x2="175.1" y2="378" stroke="#c8343f" stroke-width="1.6"/>
<line x1="171.1" y1="390" x2="175.1" y2="390" stroke="#c8343f" stroke-width="1.6"/>
<line x1="173.1" y1="390.7" x2="173.1" y2="400.1" stroke="#da5864" stroke-width="1.6"/>
<line x1="171.1" y1="390.7" x2="175.1" y2="390.7" stroke="#c8343f" stroke-width="1.6"/>
<line x1="171.1" y1="400.1" x2="175.1" y2="400.1" stroke="#c8343f" stroke-width="1.6"/>
<line x1="281" y1="383.5" x2="281" y2="394" stroke="#da5864" stroke-width="1.6"/>
<line x1="279" y1="383.5" x2="283" y2="383.5" stroke="#c8343f" stroke-width="1.6"/>
<line x1="279" y1="394" x2="283" y2="394" stroke="#c8343f" stroke-width="1.6"/>
<line x1="281" y1="384" x2="281" y2="396" stroke="#da5864" stroke-width="1.6"/>
<line x1="279" y1="384" x2="283" y2="384" stroke="#c8343f" stroke-width="1.6"/>
<line x1="279" y1="396" x2="283" y2="396" stroke="#c8343f" stroke-width="1.6"/>
<line x1="281" y1="386" x2="281" y2="398" stroke="#da5864" stroke-width="1.6"/>
<line x1="279" y1="386" x2="283" y2="386" stroke="#c8343f" stroke-width="1.6"/>
<line x1="279" y1="398" x2="283" y2="398" stroke="#c8343f" stroke-width="1.6"/>
<line x1="281" y1="388" x2="281" y2="399.7" stroke="#da5864" stroke-width="1.6"/>
<line x1="279" y1="388" x2="283" y2="388" stroke="#c8343f" stroke-width="1.6"/>
<line x1="279" y1="399.7" x2="283" y2="399.7" stroke="#c8343f" stroke-width="1.6"/>
<circle cx="85.2" cy="344.1" r="3.5" fill="#e8141e"/>
<circle cx="85.2" cy="361.8" r="3.5" fill="#e8141e"/>
<circle cx="85.2" cy="364.3" r="3.5" fill="#e8141e"/>
<circle cx="85.2" cy="366.9" r="3.5" fill="#e8141e"/>
<circle cx="85.2" cy="390.8" r="3.5" fill="#e8141e"/>
<circle cx="173.1" cy="358.5" r="3.5" fill="#e8141e"/>
<circle cx="173.1" cy="370.4" r="3.5" fill="#e8141e"/>
<circle cx="173.1" cy="373.8" r="3.5" fill="#e8141e"/>
<circle cx="173.1" cy="377.2" r="3.5" fill="#e8141e"/>
<circle cx="173.1" cy="380.5" r="3.5" fill="#e8141e"/>
<circle cx="173.1" cy="383.9" r="3.5" fill="#e8141e"/>
<circle cx="173.1" cy="394.7" r="3.5" fill="#e8141e"/>
<circle cx="281" cy="388.5" r="3.5" fill="#e8141e"/>
<circle cx="281" cy="390.5" r="3.5" fill="#e8141e"/>
<circle cx="281" cy="392.5" r="3.5" fill="#e8141e"/>
<circle cx="281" cy="394.6" r="3.5" fill="#e8141e"/>
<text x="250.5" y="309" font-family="Liberation Sans" font-size="12.5" text-anchor="start" fill="#111" stroke="#111" stroke-width="0.25" font-weight="normal" textLength="66.7" lengthAdjust="spacingAndGlyphs">Ea=0.25 eV</text>
<text x="1.5" y="279.2" font-family="Liberation Sans" font-size="16" text-anchor="start" fill="#000" stroke="#000" stroke-width="0.25" font-weight="bold">c</text>
<g transform="translate(12,439.1) rotate(-90)"><text x="0" y="0" font-family="Liberation Sans" font-size="12.5" fill="#111" stroke="#111" stroke-width="0.25" textLength="63.3" lengthAdjust="spacingAndGlyphs">Periodicity:</text></g>
<g transform="translate(12,366.7) rotate(-90) scale(0.74,1)"><text x="0" y="0" font-family="Liberation Serif" font-size="12" fill="#111" stroke="#111" stroke-width="0.25">&#923;</text></g>
<g transform="translate(12,346.8) rotate(-90)"><text x="0" y="0" font-family="Liberation Sans" font-size="12.5" fill="#111" stroke="#111" stroke-width="0.25" textLength="26.4" lengthAdjust="spacingAndGlyphs">(nm)</text></g>
<text x="157.5" y="514.8" font-family="Liberation Sans" font-size="12.4" text-anchor="start" fill="#111" stroke="#111" stroke-width="0.25" font-weight="normal" textLength="55.8" lengthAdjust="spacingAndGlyphs">1000/T (K</text>
<text x="215" y="510.4" font-family="Liberation Sans" font-size="8.8" text-anchor="start" fill="#111" stroke="#111" stroke-width="0.25" font-weight="normal">-<tspan dx="1.2">1</tspan></text>
<text x="224.6" y="514.8" font-family="Liberation Sans" font-size="12.4" text-anchor="start" fill="#111" stroke="#111" stroke-width="0.25" font-weight="normal">)</text>
<rect x="425.8" y="287.6" width="274.7" height="183.4" fill="none" stroke="#3c3c3c" stroke-width="1.3"/>
<text x="425.3" y="488.8" font-family="Liberation Sans" font-size="12.3" text-anchor="middle" fill="#111" stroke="#111" stroke-width="0.25" font-weight="normal">300</text>
<line x1="439.54" y1="471" x2="439.54" y2="469.5" stroke="#3c3c3c" stroke-width="1"/>
<line x1="453.27" y1="471" x2="453.27" y2="469.5" stroke="#3c3c3c" stroke-width="1"/>
<line x1="467" y1="471" x2="467" y2="469.5" stroke="#3c3c3c" stroke-width="1"/>
<line x1="480.74" y1="471" x2="480.74" y2="469.5" stroke="#3c3c3c" stroke-width="1"/>
<line x1="494.48" y1="471" x2="494.48" y2="467.7" stroke="#3c3c3c" stroke-width="1"/>
<text x="493.98" y="488.8" font-family="Liberation Sans" font-size="12.3" text-anchor="middle" fill="#111" stroke="#111" stroke-width="0.25" font-weight="normal">350</text>
<line x1="508.21" y1="471" x2="508.21" y2="469.5" stroke="#3c3c3c" stroke-width="1"/>
<line x1="521.95" y1="471" x2="521.95" y2="469.5" stroke="#3c3c3c" stroke-width="1"/>
<line x1="535.68" y1="471" x2="535.68" y2="469.5" stroke="#3c3c3c" stroke-width="1"/>
<line x1="549.41" y1="471" x2="549.41" y2="469.5" stroke="#3c3c3c" stroke-width="1"/>
<line x1="563.15" y1="471" x2="563.15" y2="467.7" stroke="#3c3c3c" stroke-width="1"/>
<text x="562.65" y="488.8" font-family="Liberation Sans" font-size="12.3" text-anchor="middle" fill="#111" stroke="#111" stroke-width="0.25" font-weight="normal">400</text>
<line x1="576.88" y1="471" x2="576.88" y2="469.5" stroke="#3c3c3c" stroke-width="1"/>
<line x1="590.62" y1="471" x2="590.62" y2="469.5" stroke="#3c3c3c" stroke-width="1"/>
<line x1="604.36" y1="471" x2="604.36" y2="469.5" stroke="#3c3c3c" stroke-width="1"/>
<line x1="618.09" y1="471" x2="618.09" y2="469.5" stroke="#3c3c3c" stroke-width="1"/>
<line x1="631.83" y1="471" x2="631.83" y2="467.7" stroke="#3c3c3c" stroke-width="1"/>
<text x="631.33" y="488.8" font-family="Liberation Sans" font-size="12.3" text-anchor="middle" fill="#111" stroke="#111" stroke-width="0.25" font-weight="normal">450</text>
<line x1="645.56" y1="471" x2="645.56" y2="469.5" stroke="#3c3c3c" stroke-width="1"/>
<line x1="659.3" y1="471" x2="659.3" y2="469.5" stroke="#3c3c3c" stroke-width="1"/>
<line x1="673.03" y1="471" x2="673.03" y2="469.5" stroke="#3c3c3c" stroke-width="1"/>
<line x1="686.76" y1="471" x2="686.76" y2="469.5" stroke="#3c3c3c" stroke-width="1"/>
<text x="700" y="488.8" font-family="Liberation Sans" font-size="12.3" text-anchor="middle" fill="#111" stroke="#111" stroke-width="0.25" font-weight="normal">500</text>
<line x1="425.8" y1="457.2" x2="427.4" y2="457.2" stroke="#3c3c3c" stroke-width="1"/>
<line x1="425.8" y1="449.12" x2="427.4" y2="449.12" stroke="#3c3c3c" stroke-width="1"/>
<line x1="425.8" y1="443.4" x2="427.4" y2="443.4" stroke="#3c3c3c" stroke-width="1"/>
<line x1="425.8" y1="438.95" x2="427.4" y2="438.95" stroke="#3c3c3c" stroke-width="1"/>
<line x1="425.8" y1="435.32" x2="427.4" y2="435.32" stroke="#3c3c3c" stroke-width="1"/>
<line x1="425.8" y1="432.25" x2="427.4" y2="432.25" stroke="#3c3c3c" stroke-width="1"/>
<line x1="425.8" y1="429.59" x2="427.4" y2="429.59" stroke="#3c3c3c" stroke-width="1"/>
<line x1="425.8" y1="427.25" x2="427.4" y2="427.25" stroke="#3c3c3c" stroke-width="1"/>
<line x1="425.8" y1="425.15" x2="430.8" y2="425.15" stroke="#3c3c3c" stroke-width="1"/>
<line x1="425.8" y1="411.35" x2="427.4" y2="411.35" stroke="#3c3c3c" stroke-width="1"/>
<line x1="425.8" y1="403.27" x2="427.4" y2="403.27" stroke="#3c3c3c" stroke-width="1"/>
<line x1="425.8" y1="397.55" x2="427.4" y2="397.55" stroke="#3c3c3c" stroke-width="1"/>
<line x1="425.8" y1="393.1" x2="427.4" y2="393.1" stroke="#3c3c3c" stroke-width="1"/>
<line x1="425.8" y1="389.47" x2="427.4" y2="389.47" stroke="#3c3c3c" stroke-width="1"/>
<line x1="425.8" y1="386.4" x2="427.4" y2="386.4" stroke="#3c3c3c" stroke-width="1"/>
<line x1="425.8" y1="383.74" x2="427.4" y2="383.74" stroke="#3c3c3c" stroke-width="1"/>
<line x1="425.8" y1="381.4" x2="427.4" y2="381.4" stroke="#3c3c3c" stroke-width="1"/>
<line x1="425.8" y1="379.3" x2="430.8" y2="379.3" stroke="#3c3c3c" stroke-width="1"/>
<line x1="425.8" y1="365.5" x2="427.4" y2="365.5" stroke="#3c3c3c" stroke-width="1"/>
<line x1="425.8" y1="357.42" x2="427.4" y2="357.42" stroke="#3c3c3c" stroke-width="1"/>
<line x1="425.8" y1="351.7" x2="427.4" y2="351.7" stroke="#3c3c3c" stroke-width="1"/>
<line x1="425.8" y1="347.25" x2="427.4" y2="347.25" stroke="#3c3c3c" stroke-width="1"/>
<line x1="425.8" y1="343.62" x2="427.4" y2="343.62" stroke="#3c3c3c" stroke-width="1"/>
<line x1="425.8" y1="340.55" x2="427.4" y2="340.55" stroke="#3c3c3c" stroke-width="1"/>
<line x1="425.8" y1="337.89" x2="427.4" y2="337.89" stroke="#3c3c3c" stroke-width="1"/>
<line x1="425.8" y1="335.55" x2="427.4" y2="335.55" stroke="#3c3c3c" stroke-width="1"/>
<line x1="425.8" y1="333.45" x2="430.8" y2="333.45" stroke="#3c3c3c" stroke-width="1"/>
<line x1="425.8" y1="319.65" x2="427.4" y2="319.65" stroke="#3c3c3c" stroke-width="1"/>
<line x1="425.8" y1="311.57" x2="427.4" y2="311.57" stroke="#3c3c3c" stroke-width="1"/>
<line x1="425.8" y1="305.85" x2="427.4" y2="305.85" stroke="#3c3c3c" stroke-width="1"/>
<line x1="425.8" y1="301.4" x2="427.4" y2="301.4" stroke="#3c3c3c" stroke-width="1"/>
<line x1="425.8" y1="297.77" x2="427.4" y2="297.77" stroke="#3c3c3c" stroke-width="1"/>
<line x1="425.8" y1="294.7" x2="427.4" y2="294.7" stroke="#3c3c3c" stroke-width="1"/>
<line x1="425.8" y1="292.04" x2="427.4" y2="292.04" stroke="#3c3c3c" stroke-width="1"/>
<line x1="425.8" y1="289.7" x2="427.4" y2="289.7" stroke="#3c3c3c" stroke-width="1"/>
<text x="404.2" y="279.2" font-family="Liberation Sans" font-size="16" text-anchor="start" fill="#000" stroke="#000" stroke-width="0.25" font-weight="bold">d</text>
<g transform="translate(415,379.2) rotate(-90)"><text x="0" y="0" font-family="Liberation Sans" font-size="12.5" text-anchor="middle" fill="#111" stroke="#111" stroke-width="0.25" textLength="106" lengthAdjust="spacingAndGlyphs">Intensity (arb. unit)</text></g>
<text x="513.8" y="513.6" font-family="Liberation Sans" font-size="12.5" text-anchor="start" fill="#111" stroke="#111" stroke-width="0.25" font-weight="normal" textLength="98.3" lengthAdjust="spacingAndGlyphs">Wavelength (nm)</text>
<polyline points="426.3,370.8 426.8,372.7 427.3,378.5 427.8,371.7 428.3,380.4 428.7,373.7 429.2,381.3 429.7,368.8 430.2,378.5 430.8,366 431.4,366.9 432.1,359.2 433.1,352.5 434,347.7 434.5,346.3 435.3,352.5 436.2,353.5 437.2,351.5 438.3,352.5 439.3,357.3 440.3,358.8 441.5,357.7 442.9,359.1 444.2,360.4 445.6,361.1 446.5,365.8 447.6,360.4 448.9,352.3 450.3,344.3 451.6,344.3 453,352.3 454.3,352.3 455.9,344.3 456.8,348.68 457.7,353.7 459.3,360.4 460.2,362.82 461.1,366.5 462.4,361.8 463.8,365.8 465.1,363.1 466.5,366.5 467.8,360.4 468.8,357.32 469.8,353.7 471.2,341.6 472.5,336.2 474,335.5 475.2,330.4 476.9,325.7 478.3,333 479.5,352.1 480.8,369.4 482.2,376.4 483.9,367.7 485.6,348.6 487.4,329.5 488.8,322.9 490,329.5 491.7,355.6 493.4,367.7 494.7,367.78 496,369.4 496.9,370.36 497.8,371.2 499.5,372.9 500.4,373.56 501.3,374.7 502.6,374.75 503.9,376.4 505.6,377.3 506.8,379 508.2,371.2 509.5,366.86 510.8,362.5 512.5,346.9 514.3,340.8 516,345.1 517.7,357.3 518.5,359.9 520.2,362.5 521.6,367.7 522.3,374.7 523.7,364.2 525.4,352.1 526.3,347.77 527.2,345.1 528.9,341.3 530.6,346.9 532.4,362.5 533.8,371.2 535,378.1 536.2,372.9 537.6,366 539,374.7 540.7,371.2 542.4,374.7 543.3,370.23 544.2,366 545.9,364.2 547.6,360.8 549.4,362.5 551.1,357.3 552.8,359 553.7,354.78 554.6,352.1 555.65,348.76 556.7,346.9 558.4,352.1 560.1,350.3 561.9,346.9 562.6,347.3 563.8,352.5 565.2,358.6 566.6,361.2 567.8,360.3 569,362 570.1,347.3 571.3,324.7 572.5,303.9 573.5,298.3 574.8,303.9 576,321.3 577.4,345.6 578.8,359.4 580,364.7 581.2,373.3 582.2,366.4 583.4,361.2 584.7,350.8 585.7,348.2 586.9,356 587.8,362.9 589,342.1 590.4,319.5 591.6,305.6 592.6,302.5 593.9,307.4 595.1,324.7 596.5,347.3 597.8,361.2 598.7,363.21 599.6,365.5 600.8,363.8 602,354.2 603.4,336.9 605.1,329.1 606.5,335.1 607.7,347.3 609,357.7 610.2,361.2 611.6,362.9 612.8,366.4 614,369 615.4,364.7 616.8,362.9 618.5,363.8 620.3,361.2 622,360.3 623.8,358.6 625,356.8 626.2,358.6 627.2,364.7 628.4,362 629.7,358.6 631,359.4 632.4,354.2 633.6,347.3 634.9,340.3 636.3,334.8 637.6,340.3 639,350.8 640.6,358.6 641.8,360.3 643.2,349 644.6,329.9 645.8,318.6 646.7,315.2 648.1,321.3 649.3,333.4 650.5,347.3 651.9,354.2 653.5,350.8 654.9,349 656.6,351.6 658.3,355.1 659.2,357.44 660.1,358.6 661.8,357.7 663.5,358.6 664.55,357.02 665.6,356.8 667.4,357.7 669.1,356.8 670.8,355.6 671.7,354.85 672.6,355.1 674.3,355.1 676,353.4 677.4,350.8 678.3,351.88 679.2,352.5 680.9,349 682.6,346.4 684.4,348.2 685.45,349.26 686.5,348.7 687.5,349.44 688.5,349.9 690.3,350.8 692,352.5 693.8,347.3 695.5,342.1 697.2,336.9 699,334.8 700.3,334.3" fill="none" stroke="#dc2430" stroke-width="1.6" stroke-linejoin="round"/>
<polyline points="426.3,403.1 426.9,412.4 427.7,417 428.6,408.9 429.5,405.4 430.4,407.7 431.2,404.3 432.1,410.1 433,403.1 433.8,400.8 434.6,411.2 435.3,403.1 436.1,413.5 436.9,404.3 437.9,414.7 438.8,406.6 439.6,418.2 440.4,408.9 441.3,411.2 442.3,414.7 443.1,407.7 443.9,412.4 444.6,406.6 445.4,420.5 446.2,412.4 446.9,421.6 447.7,408.9 448.5,414.7 449.4,408.9 450.4,411.2 451.2,410.1 452,414.7 452.7,421.6 453.5,412.4 454.3,410.1 455.2,414.7 456.1,411.2 456.9,415.8 457.8,410.1 458.7,413.5 459.6,412.4 460.4,415.8 461.2,411.2 462.1,414.7 463.1,408.9 463.9,417 464.7,412.4 465.6,414.7 466.5,411.2 467.4,415.8 468.2,413.5 469.1,417 470,411.2 470.8,414.7 471.6,408.9 472.6,419.3 473.5,414.7 474.3,417 475.1,413.5 476,414.7 476.9,411.2 477.8,412.4 478.6,415.8 479.5,414.7 480.4,420.5 481.2,419.3 482.3,417 483.5,418.2 484.6,415.8 485.8,418.2 486.7,414.7 487.5,428.6 488.3,415.8 489.2,419.3 490.2,421.6 491,425.1 491.8,418.2 492.7,417 493.9,419.3 495,418.2 496.2,415.8 497.3,414.7 498.5,417 499.7,418.2 500.8,412.4 501.7,415.8 502.5,419.3 503.4,422.8 504.3,419.3 505.4,420.5 506.6,419.3 507.7,420.5 508.9,418.2 509.8,420.5 510.6,423.9 511.4,415.8 512.4,413.5 513.5,410.6 514.7,410.3 515.8,412.4 517,417 517.9,421.6 518.7,418.2 519.5,414.7 520.5,419.3 521.4,427.4 522.2,423.9 523,426.2 523.9,419.3 525.1,414.7 526.2,411.2 527.4,413.5 528.6,411.2 529.7,414.7 530.9,413.5 532,415.8 533.2,414.7 534.1,421.6 535,419.3 536.1,415.8 537.2,418.6 538.3,420.9 539.5,423.2 540.6,422 541.8,423.2 542.9,418.6 544.1,412.8 545.2,415.1 546.4,413.9 547.6,417.4 548.5,423.2 549.3,416.2 550.1,411.6 551,410.5 552,416.2 553.1,411.6 554.3,411.6 555.4,413.9 556.6,410.5 557.7,412.8 558.9,411.6 560,413.4 561.2,411.6 562.4,412.8 563.5,410.5 564.7,413.9 565.8,416.2 566.6,418.6 567.4,412.8 568.4,417.4 569.3,412.8 570.1,416.2 571.3,411.6 572.4,412.8 573.6,407 574.4,409.3 575.3,412.8 576.5,411.6 577.6,413.9 578.8,412.8 579.9,415.1 581.1,417.4 582.2,416.2 583.4,418.6 584.6,420.9 585.7,416.2 586.9,415.1 588,412.8 589.2,416.2 590.3,412.8 591.5,415.1 592.6,416.2 593.8,415.1 595,413.9 596.6,414.5 597.8,410.5 598.9,413.4 600.1,415.7 601.2,412.8 602.4,409.3 603.6,409.9 604.7,407 605.9,408.2 607,409.3 608.2,407.6 609.3,410.5 610.5,412.8 611.7,415.1 612.8,412.8 614,413.9 615.1,411.6 616.3,415.1 617.4,412.8 618.6,413.9 619.7,411.6 620.9,416.2 622.1,412.8 623.2,413.9 624.4,416.2 625.5,411.6 626.7,413.4 627.8,410.5 629,412.8 630.2,410.5 631.3,411.6 632.5,412.8 633.6,409.3 634.8,408.2 635.9,407 637.1,407.6 638.2,407 639.4,409.3 640.6,411.6 641.7,413.9 642.3,415.1 643.5,410.5 644.6,403.5 645.8,396.6 646.9,398.9 648.1,404.7 649.2,407 650.4,411.6 651.6,404.7 652.7,400.1 653.9,401.2 655,403.5 656.2,409.3 657.3,403.5 658.5,405.8 659.7,407 660.8,408.2 662,412.8 663.1,405.8 664.3,407 665.4,404.7 666.6,405.8 667.7,405.3 668.9,404.7 670.1,408.2 671.2,404.7 672.4,403.5 673.5,402.4 674.7,403.5 675.8,402.9 677,403.5 678.2,404.7 679.3,402.4 680.5,400.6 681.6,400.1 682.8,397.7 683.9,398.9 685.1,400.1 686.2,399.5 687.4,400.6 688.6,400.1 689.7,399.5 690.9,402.4 692,400.1 693.2,399.5 694.3,398.3 695.5,397.7 696.6,396.6 697.8,396 699,396.6 700.1,396" fill="none" stroke="#1f3c9c" stroke-width="1.6" stroke-linejoin="round"/>
<text x="430.8" y="343.8" font-family="Liberation Sans" font-size="12.5" text-anchor="start" fill="#000" stroke="#000" stroke-width="0.25" font-weight="normal">Ti</text>
<text x="441.4" y="338.2" font-family="Liberation Sans" font-size="7.6" text-anchor="start" fill="#000" stroke="#000" stroke-width="0.25" font-weight="normal">+</text>
<text x="448.3" y="339.1" font-family="Liberation Sans" font-size="12.5" text-anchor="start" fill="#000" stroke="#000" stroke-width="0.25" font-weight="normal">Ti</text>
<text x="458.9" y="333.5" font-family="Liberation Sans" font-size="7.6" text-anchor="start" fill="#000" stroke="#000" stroke-width="0.25" font-weight="normal">+</text>
<text x="465.6" y="321.2" font-family="Liberation Sans" font-size="12.5" text-anchor="start" fill="#000" stroke="#000" stroke-width="0.25" font-weight="normal">Ti</text>
<text x="476.2" y="315.6" font-family="Liberation Sans" font-size="7.6" text-anchor="start" fill="#000" stroke="#000" stroke-width="0.25" font-weight="normal">+</text>
<text x="483.8" y="320" font-family="Liberation Sans" font-size="12.5" text-anchor="start" fill="#000" stroke="#000" stroke-width="0.25" font-weight="normal">Sr</text>
<text x="496.9" y="314.4" font-family="Liberation Sans" font-size="7.6" text-anchor="start" fill="#000" stroke="#000" stroke-width="0.25" font-weight="normal">+</text>
<text x="508.3" y="336.8" font-family="Liberation Sans" font-size="12.5" text-anchor="start" fill="#000" stroke="#000" stroke-width="0.25" font-weight="normal">Ti</text>
<text x="523.9" y="337.8" font-family="Liberation Sans" font-size="12.5" text-anchor="start" fill="#000" stroke="#000" stroke-width="0.25" font-weight="normal">Ti</text>
<text x="545.4" y="347.3" font-family="Liberation Sans" font-size="12.5" text-anchor="start" fill="#000" stroke="#000" stroke-width="0.25" font-weight="normal">Ti</text>
<text x="558.7" y="343.2" font-family="Liberation Sans" font-size="12.5" text-anchor="start" fill="#000" stroke="#000" stroke-width="0.25" font-weight="normal">Ti</text>
<text x="559.6" y="300.9" font-family="Liberation Sans" font-size="12.5" text-anchor="start" fill="#000" stroke="#000" stroke-width="0.25" font-weight="normal">Sr</text>
<text x="572.7" y="295.3" font-family="Liberation Sans" font-size="7.6" text-anchor="start" fill="#000" stroke="#000" stroke-width="0.25" font-weight="normal">+</text>
<text x="578.5" y="345" font-family="Liberation Sans" font-size="12.5" text-anchor="start" fill="#000" stroke="#000" stroke-width="0.25" font-weight="normal">Ti</text>
<text x="588" y="300.9" font-family="Liberation Sans" font-size="12.5" text-anchor="start" fill="#000" stroke="#000" stroke-width="0.25" font-weight="normal">Sr</text>
<text x="601.1" y="295.3" font-family="Liberation Sans" font-size="7.6" text-anchor="start" fill="#000" stroke="#000" stroke-width="0.25" font-weight="normal">+</text>
<text x="601.1" y="326.2" font-family="Liberation Sans" font-size="12.5" text-anchor="start" fill="#000" stroke="#000" stroke-width="0.25" font-weight="normal">Ti</text>
<text x="619.2" y="356.3" font-family="Liberation Sans" font-size="12.5" text-anchor="start" fill="#000" stroke="#000" stroke-width="0.25" font-weight="normal">Ti</text>
<text x="630.6" y="331.9" font-family="Liberation Sans" font-size="12.5" text-anchor="start" fill="#000" stroke="#000" stroke-width="0.25" font-weight="normal">Ti</text>
<text x="641.2" y="309.8" font-family="Liberation Sans" font-size="12.5" text-anchor="start" fill="#000" stroke="#000" stroke-width="0.25" font-weight="normal">Sr</text>
<text x="653.9" y="345.2" font-family="Liberation Sans" font-size="12.5" text-anchor="start" fill="#000" stroke="#000" stroke-width="0.25" font-weight="normal">Ti</text>
<text x="676.8" y="343.3" font-family="Liberation Sans" font-size="12.5" text-anchor="start" fill="#000" stroke="#000" stroke-width="0.25" font-weight="normal">Sr</text>
<text x="687.9" y="327.8" font-family="Liberation Sans" font-size="12.5" text-anchor="start" fill="#000" stroke="#000" stroke-width="0.25" font-weight="normal">Ti</text>
<text x="508.4" y="406.5" font-family="Liberation Sans" font-size="12.5" text-anchor="start" fill="#000" stroke="#000" stroke-width="0.25" font-weight="normal">Ti</text>
<text x="524.6" y="406.5" font-family="Liberation Sans" font-size="12.5" text-anchor="start" fill="#000" stroke="#000" stroke-width="0.25" font-weight="normal">Ti</text>
<text x="601.3" y="400.4" font-family="Liberation Sans" font-size="12.5" text-anchor="start" fill="#000" stroke="#000" stroke-width="0.25" font-weight="normal">Ti</text>
<text x="631.5" y="402.3" font-family="Liberation Sans" font-size="12.5" text-anchor="start" fill="#000" stroke="#000" stroke-width="0.25" font-weight="normal">Ti</text>
<text x="641.7" y="391.5" font-family="Liberation Sans" font-size="12.5" text-anchor="start" fill="#000" stroke="#000" stroke-width="0.25" font-weight="normal">Sr</text>
<text x="653.9" y="398.1" font-family="Liberation Sans" font-size="12.5" text-anchor="start" fill="#000" stroke="#000" stroke-width="0.25" font-weight="normal">Ti</text>
<text x="688" y="390" font-family="Liberation Sans" font-size="12.5" text-anchor="start" fill="#000" stroke="#000" stroke-width="0.25" font-weight="normal">Ti</text>
<text x="444.3" y="382.2" font-family="Liberation Sans" font-size="12.6" text-anchor="start" fill="#000" stroke="#000" stroke-width="0.25" font-weight="normal" textLength="23.6" lengthAdjust="spacingAndGlyphs">2kG</text>
<text x="450.6" y="434.5" font-family="Liberation Sans" font-size="12.6" text-anchor="start" fill="#000" stroke="#000" stroke-width="0.25" font-weight="normal">0G</text>
</svg>
</body></html>
